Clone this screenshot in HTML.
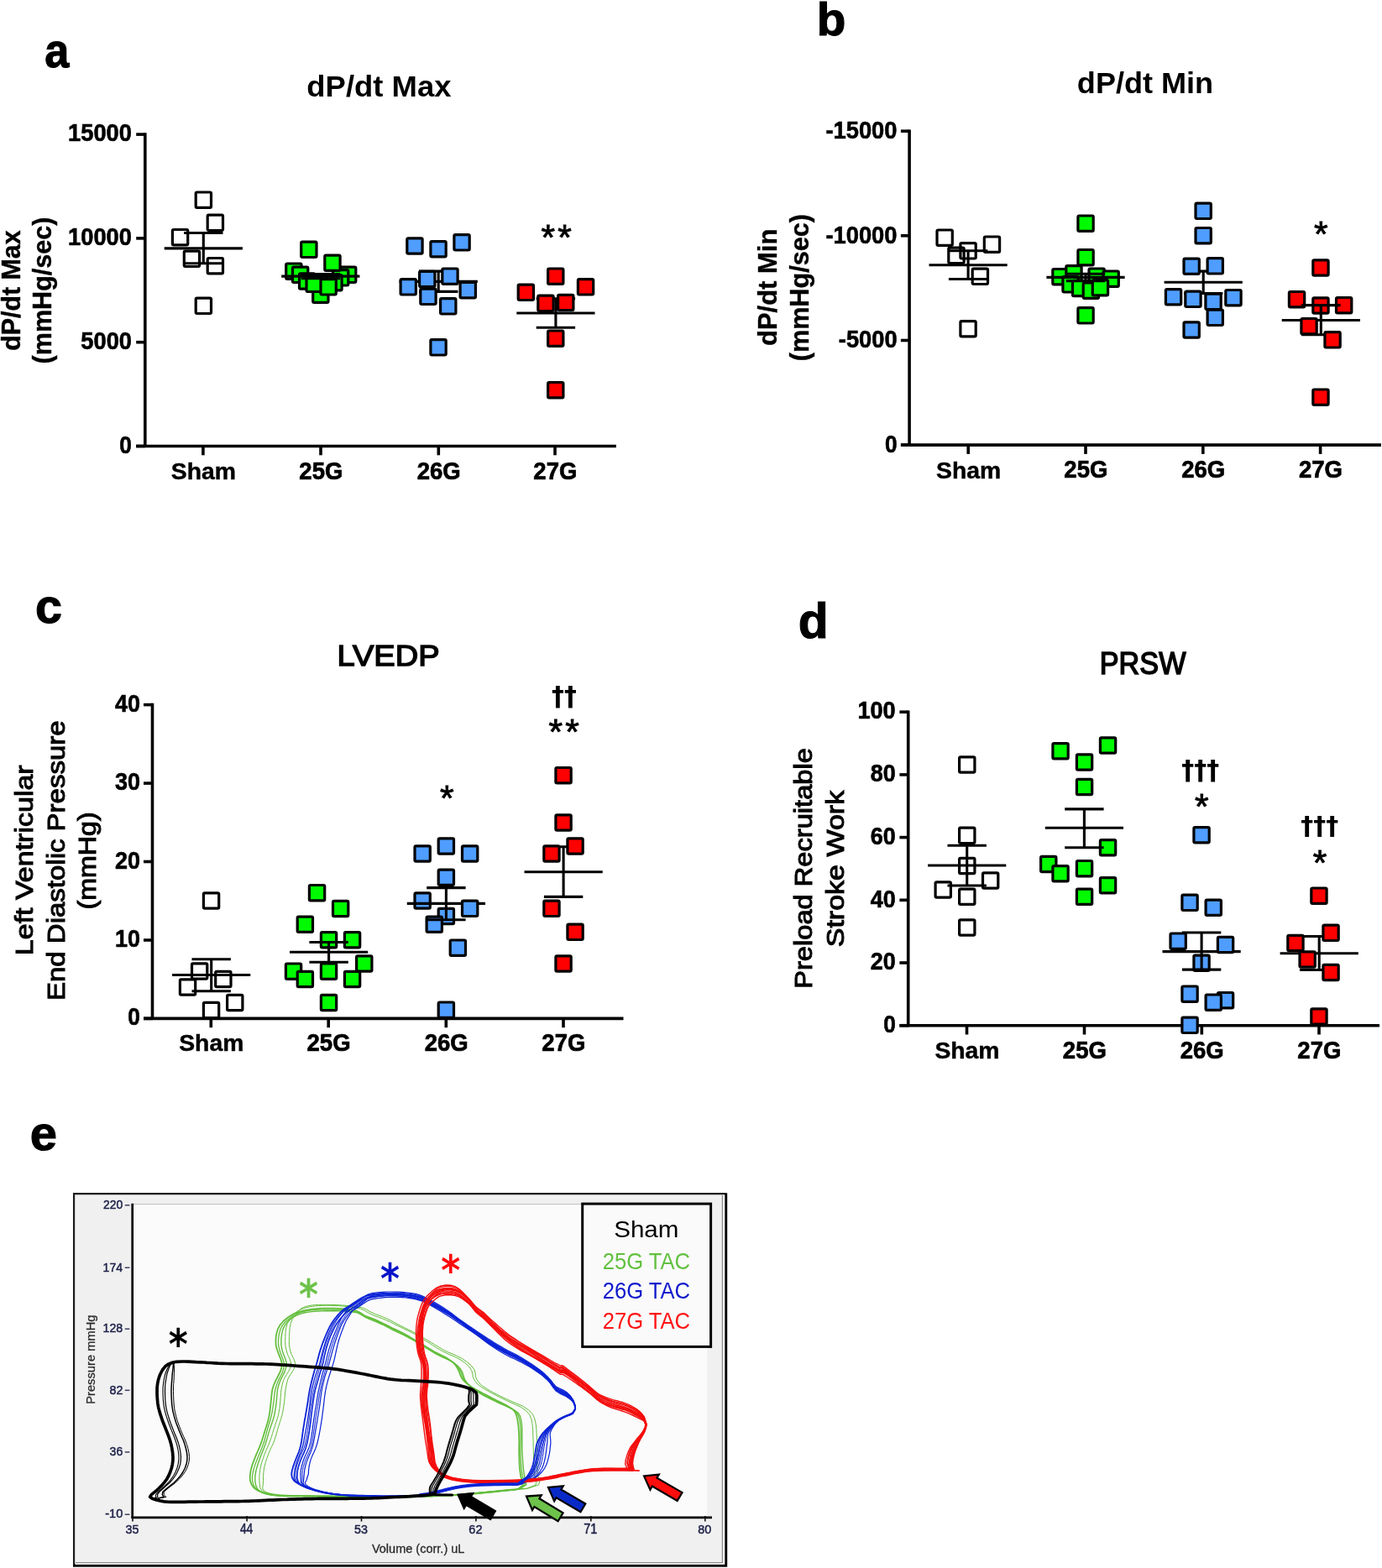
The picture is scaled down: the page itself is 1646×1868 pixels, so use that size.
<!DOCTYPE html>
<html lang="en"><head><meta charset="utf-8"><title>Figure</title>
<style>
html,body{margin:0;padding:0;background:#fff;}
body{width:1646px;height:1868px;overflow:hidden;}
svg{display:block;}
</style></head><body>
<svg width="1646" height="1868" viewBox="0 0 1646 1868" font-family="Liberation Sans, sans-serif">
<rect width="1646" height="1868" fill="#fff"/>
<g>
<rect x="233.2" y="229.0" width="18.3" height="18.3" rx="1.4" fill="none" stroke="#000" stroke-width="3.2"/>
<rect x="247.2" y="256.2" width="18.3" height="18.3" rx="1.4" fill="none" stroke="#000" stroke-width="3.2"/>
<rect x="205.4" y="273.5" width="18.3" height="18.3" rx="1.4" fill="none" stroke="#000" stroke-width="3.2"/>
<rect x="219.3" y="299.2" width="18.3" height="18.3" rx="1.4" fill="none" stroke="#000" stroke-width="3.2"/>
<rect x="247.2" y="307.5" width="18.3" height="18.3" rx="1.4" fill="none" stroke="#000" stroke-width="3.2"/>
<rect x="233.2" y="355.2" width="18.3" height="18.3" rx="1.4" fill="none" stroke="#000" stroke-width="3.2"/>
<line x1="195.7" y1="295.9" x2="288.9" y2="295.9" stroke="#000" stroke-width="3.1"/>
<line x1="242.3" y1="277.5" x2="242.3" y2="313.8" stroke="#000" stroke-width="3.1"/>
<line x1="219.1" y1="277.5" x2="265.5" y2="277.5" stroke="#000" stroke-width="3.1"/>
<line x1="219.1" y1="313.8" x2="265.5" y2="313.8" stroke="#000" stroke-width="3.1"/>
<rect x="372.7" y="342.1" width="18.3" height="18.3" rx="1.4" fill="#00fb00" stroke="#000" stroke-width="3.2"/>
<rect x="340.7" y="314.0" width="18.3" height="18.3" rx="1.4" fill="#00fb00" stroke="#000" stroke-width="3.2"/>
<rect x="405.5" y="318.2" width="18.3" height="18.3" rx="1.4" fill="#00fb00" stroke="#000" stroke-width="3.2"/>
<rect x="348.5" y="318.2" width="18.3" height="18.3" rx="1.4" fill="#00fb00" stroke="#000" stroke-width="3.2"/>
<rect x="396.5" y="321.7" width="18.3" height="18.3" rx="1.4" fill="#00fb00" stroke="#000" stroke-width="3.2"/>
<rect x="356.5" y="325.9" width="18.3" height="18.3" rx="1.4" fill="#00fb00" stroke="#000" stroke-width="3.2"/>
<rect x="388.8" y="327.6" width="18.3" height="18.3" rx="1.4" fill="#00fb00" stroke="#000" stroke-width="3.2"/>
<rect x="365.0" y="329.2" width="18.3" height="18.3" rx="1.4" fill="#00fb00" stroke="#000" stroke-width="3.2"/>
<rect x="382.0" y="332.7" width="18.3" height="18.3" rx="1.4" fill="#00fb00" stroke="#000" stroke-width="3.2"/>
<rect x="358.7" y="288.2" width="18.3" height="18.3" rx="1.4" fill="#00fb00" stroke="#000" stroke-width="3.2"/>
<rect x="386.8" y="304.1" width="18.3" height="18.3" rx="1.4" fill="#00fb00" stroke="#000" stroke-width="3.2"/>
<line x1="335.2" y1="329.1" x2="428.4" y2="329.1" stroke="#000" stroke-width="3.1"/>
<line x1="381.8" y1="326.5" x2="381.8" y2="331.7" stroke="#000" stroke-width="3.1"/>
<line x1="358.6" y1="326.5" x2="405.0" y2="326.5" stroke="#000" stroke-width="3.1"/>
<line x1="358.6" y1="331.7" x2="405.0" y2="331.7" stroke="#000" stroke-width="3.1"/>
<line x1="475.6" y1="335.4" x2="568.8" y2="335.4" stroke="#000" stroke-width="3.1"/>
<line x1="522.2" y1="323.1" x2="522.2" y2="347.4" stroke="#000" stroke-width="3.1"/>
<line x1="499.0" y1="323.1" x2="545.4" y2="323.1" stroke="#000" stroke-width="3.1"/>
<line x1="499.0" y1="347.4" x2="545.4" y2="347.4" stroke="#000" stroke-width="3.1"/>
<rect x="484.8" y="283.9" width="18.3" height="18.3" rx="1.4" fill="#4f9dff" stroke="#000" stroke-width="3.2"/>
<rect x="512.9" y="287.6" width="18.3" height="18.3" rx="1.4" fill="#4f9dff" stroke="#000" stroke-width="3.2"/>
<rect x="540.9" y="279.7" width="18.3" height="18.3" rx="1.4" fill="#4f9dff" stroke="#000" stroke-width="3.2"/>
<rect x="499.6" y="323.4" width="18.3" height="18.3" rx="1.4" fill="#4f9dff" stroke="#000" stroke-width="3.2"/>
<rect x="526.8" y="320.0" width="18.3" height="18.3" rx="1.4" fill="#4f9dff" stroke="#000" stroke-width="3.2"/>
<rect x="477.1" y="332.7" width="18.3" height="18.3" rx="1.4" fill="#4f9dff" stroke="#000" stroke-width="3.2"/>
<rect x="548.1" y="336.5" width="18.3" height="18.3" rx="1.4" fill="#4f9dff" stroke="#000" stroke-width="3.2"/>
<rect x="500.8" y="344.2" width="18.3" height="18.3" rx="1.4" fill="#4f9dff" stroke="#000" stroke-width="3.2"/>
<rect x="524.6" y="355.7" width="18.3" height="18.3" rx="1.4" fill="#4f9dff" stroke="#000" stroke-width="3.2"/>
<rect x="512.9" y="404.7" width="18.3" height="18.3" rx="1.4" fill="#4f9dff" stroke="#000" stroke-width="3.2"/>
<line x1="615.3" y1="373.0" x2="708.5" y2="373.0" stroke="#000" stroke-width="3.1"/>
<line x1="661.9" y1="355.7" x2="661.9" y2="390.3" stroke="#000" stroke-width="3.1"/>
<line x1="638.7" y1="355.7" x2="685.1" y2="355.7" stroke="#000" stroke-width="3.1"/>
<line x1="638.7" y1="390.3" x2="685.1" y2="390.3" stroke="#000" stroke-width="3.1"/>
<rect x="652.6" y="320.0" width="18.3" height="18.3" rx="1.4" fill="#ff0000" stroke="#000" stroke-width="3.2"/>
<rect x="617.2" y="339.2" width="18.3" height="18.3" rx="1.4" fill="#ff0000" stroke="#000" stroke-width="3.2"/>
<rect x="688.4" y="332.7" width="18.3" height="18.3" rx="1.4" fill="#ff0000" stroke="#000" stroke-width="3.2"/>
<rect x="640.8" y="352.2" width="18.3" height="18.3" rx="1.4" fill="#ff0000" stroke="#000" stroke-width="3.2"/>
<rect x="664.6" y="351.4" width="18.3" height="18.3" rx="1.4" fill="#ff0000" stroke="#000" stroke-width="3.2"/>
<rect x="652.6" y="394.0" width="18.3" height="18.3" rx="1.4" fill="#ff0000" stroke="#000" stroke-width="3.2"/>
<rect x="652.6" y="455.5" width="18.3" height="18.3" rx="1.4" fill="#ff0000" stroke="#000" stroke-width="3.2"/>
<line x1="172.8" y1="158.3" x2="172.8" y2="533.0" stroke="#000" stroke-width="3.6"/>
<line x1="162.2" y1="531.5" x2="733.8" y2="531.5" stroke="#000" stroke-width="3.6"/>
<line x1="162.2" y1="160.1" x2="172.8" y2="160.1" stroke="#000" stroke-width="3.6"/>
<line x1="162.2" y1="283.9" x2="172.8" y2="283.9" stroke="#000" stroke-width="3.6"/>
<line x1="162.2" y1="407.7" x2="172.8" y2="407.7" stroke="#000" stroke-width="3.6"/>
<line x1="162.2" y1="531.5" x2="172.8" y2="531.5" stroke="#000" stroke-width="3.6"/>
<line x1="241.9" y1="531.5" x2="241.9" y2="542.3" stroke="#000" stroke-width="3.6"/>
<line x1="382.0" y1="531.5" x2="382.0" y2="542.3" stroke="#000" stroke-width="3.6"/>
<line x1="522.3" y1="531.5" x2="522.3" y2="542.3" stroke="#000" stroke-width="3.6"/>
<line x1="661.0" y1="531.5" x2="661.0" y2="542.3" stroke="#000" stroke-width="3.6"/>
</g>
<g>
<rect x="1116.0" y="274.0" width="18.3" height="18.3" rx="1.4" fill="none" stroke="#000" stroke-width="3.2"/>
<rect x="1129.8" y="295.2" width="18.3" height="18.3" rx="1.4" fill="none" stroke="#000" stroke-width="3.2"/>
<rect x="1143.9" y="289.7" width="18.3" height="18.3" rx="1.4" fill="none" stroke="#000" stroke-width="3.2"/>
<rect x="1172.3" y="282.0" width="18.3" height="18.3" rx="1.4" fill="none" stroke="#000" stroke-width="3.2"/>
<rect x="1158.2" y="320.2" width="18.3" height="18.3" rx="1.4" fill="none" stroke="#000" stroke-width="3.2"/>
<rect x="1143.9" y="382.6" width="18.3" height="18.3" rx="1.4" fill="none" stroke="#000" stroke-width="3.2"/>
<line x1="1106.5" y1="315.8" x2="1199.7" y2="315.8" stroke="#000" stroke-width="3.1"/>
<line x1="1153.1" y1="298.8" x2="1153.1" y2="332.5" stroke="#000" stroke-width="3.1"/>
<line x1="1129.9" y1="298.8" x2="1176.3" y2="298.8" stroke="#000" stroke-width="3.1"/>
<line x1="1129.9" y1="332.5" x2="1176.3" y2="332.5" stroke="#000" stroke-width="3.1"/>
<rect x="1283.9" y="257.0" width="18.3" height="18.3" rx="1.4" fill="#00fb00" stroke="#000" stroke-width="3.2"/>
<rect x="1283.9" y="297.5" width="18.3" height="18.3" rx="1.4" fill="#00fb00" stroke="#000" stroke-width="3.2"/>
<rect x="1253.8" y="320.5" width="18.3" height="18.3" rx="1.4" fill="#00fb00" stroke="#000" stroke-width="3.2"/>
<rect x="1269.8" y="316.6" width="18.3" height="18.3" rx="1.4" fill="#00fb00" stroke="#000" stroke-width="3.2"/>
<rect x="1297.0" y="320.0" width="18.3" height="18.3" rx="1.4" fill="#00fb00" stroke="#000" stroke-width="3.2"/>
<rect x="1314.0" y="323.0" width="18.3" height="18.3" rx="1.4" fill="#00fb00" stroke="#000" stroke-width="3.2"/>
<rect x="1265.9" y="329.7" width="18.3" height="18.3" rx="1.4" fill="#00fb00" stroke="#000" stroke-width="3.2"/>
<rect x="1277.5" y="334.4" width="18.3" height="18.3" rx="1.4" fill="#00fb00" stroke="#000" stroke-width="3.2"/>
<rect x="1290.2" y="337.0" width="18.3" height="18.3" rx="1.4" fill="#00fb00" stroke="#000" stroke-width="3.2"/>
<rect x="1301.3" y="333.6" width="18.3" height="18.3" rx="1.4" fill="#00fb00" stroke="#000" stroke-width="3.2"/>
<rect x="1283.9" y="366.7" width="18.3" height="18.3" rx="1.4" fill="#00fb00" stroke="#000" stroke-width="3.2"/>
<line x1="1246.4" y1="330.4" x2="1339.6" y2="330.4" stroke="#000" stroke-width="3.1"/>
<line x1="1293.0" y1="326.2" x2="1293.0" y2="334.6" stroke="#000" stroke-width="3.1"/>
<line x1="1269.8" y1="326.2" x2="1316.2" y2="326.2" stroke="#000" stroke-width="3.1"/>
<line x1="1269.8" y1="334.6" x2="1316.2" y2="334.6" stroke="#000" stroke-width="3.1"/>
<rect x="1424.0" y="242.2" width="18.3" height="18.3" rx="1.4" fill="#4f9dff" stroke="#000" stroke-width="3.2"/>
<rect x="1424.0" y="271.5" width="18.3" height="18.3" rx="1.4" fill="#4f9dff" stroke="#000" stroke-width="3.2"/>
<line x1="1386.6" y1="336.2" x2="1479.8" y2="336.2" stroke="#000" stroke-width="3.1"/>
<line x1="1433.2" y1="323.1" x2="1433.2" y2="349.5" stroke="#000" stroke-width="3.1"/>
<line x1="1410.0" y1="323.1" x2="1456.4" y2="323.1" stroke="#000" stroke-width="3.1"/>
<line x1="1410.0" y1="349.5" x2="1456.4" y2="349.5" stroke="#000" stroke-width="3.1"/>
<rect x="1410.0" y="308.1" width="18.3" height="18.3" rx="1.4" fill="#4f9dff" stroke="#000" stroke-width="3.2"/>
<rect x="1438.1" y="307.7" width="18.3" height="18.3" rx="1.4" fill="#4f9dff" stroke="#000" stroke-width="3.2"/>
<rect x="1388.4" y="344.6" width="18.3" height="18.3" rx="1.4" fill="#4f9dff" stroke="#000" stroke-width="3.2"/>
<rect x="1411.8" y="347.2" width="18.3" height="18.3" rx="1.4" fill="#4f9dff" stroke="#000" stroke-width="3.2"/>
<rect x="1435.9" y="350.2" width="18.3" height="18.3" rx="1.4" fill="#4f9dff" stroke="#000" stroke-width="3.2"/>
<rect x="1459.8" y="345.5" width="18.3" height="18.3" rx="1.4" fill="#4f9dff" stroke="#000" stroke-width="3.2"/>
<rect x="1438.1" y="369.2" width="18.3" height="18.3" rx="1.4" fill="#4f9dff" stroke="#000" stroke-width="3.2"/>
<rect x="1410.0" y="383.8" width="18.3" height="18.3" rx="1.4" fill="#4f9dff" stroke="#000" stroke-width="3.2"/>
<rect x="1563.8" y="309.8" width="18.3" height="18.3" rx="1.4" fill="#ff0000" stroke="#000" stroke-width="3.2"/>
<rect x="1535.4" y="347.5" width="18.3" height="18.3" rx="1.4" fill="#ff0000" stroke="#000" stroke-width="3.2"/>
<rect x="1563.8" y="354.8" width="18.3" height="18.3" rx="1.4" fill="#ff0000" stroke="#000" stroke-width="3.2"/>
<rect x="1591.5" y="354.5" width="18.3" height="18.3" rx="1.4" fill="#ff0000" stroke="#000" stroke-width="3.2"/>
<rect x="1563.8" y="464.0" width="18.3" height="18.3" rx="1.4" fill="#ff0000" stroke="#000" stroke-width="3.2"/>
<line x1="1526.7" y1="381.5" x2="1619.9" y2="381.5" stroke="#000" stroke-width="3.1"/>
<line x1="1573.3" y1="363.6" x2="1573.3" y2="398.8" stroke="#000" stroke-width="3.1"/>
<line x1="1550.1" y1="363.6" x2="1596.5" y2="363.6" stroke="#000" stroke-width="3.1"/>
<line x1="1550.1" y1="398.8" x2="1596.5" y2="398.8" stroke="#000" stroke-width="3.1"/>
<rect x="1549.9" y="379.5" width="18.3" height="18.3" rx="1.4" fill="#ff0000" stroke="#000" stroke-width="3.2"/>
<rect x="1577.9" y="395.7" width="18.3" height="18.3" rx="1.4" fill="#ff0000" stroke="#000" stroke-width="3.2"/>
<line x1="1083.1" y1="154.4" x2="1083.1" y2="531.6" stroke="#000" stroke-width="3.6"/>
<line x1="1072.9" y1="530.1" x2="1644.9" y2="530.1" stroke="#000" stroke-width="3.6"/>
<line x1="1072.9" y1="156.2" x2="1083.1" y2="156.2" stroke="#000" stroke-width="3.6"/>
<line x1="1072.9" y1="280.8" x2="1083.1" y2="280.8" stroke="#000" stroke-width="3.6"/>
<line x1="1072.9" y1="405.5" x2="1083.1" y2="405.5" stroke="#000" stroke-width="3.6"/>
<line x1="1072.9" y1="530.1" x2="1083.1" y2="530.1" stroke="#000" stroke-width="3.6"/>
<line x1="1153.2" y1="530.1" x2="1153.2" y2="540.9" stroke="#000" stroke-width="3.6"/>
<line x1="1293.0" y1="530.1" x2="1293.0" y2="540.9" stroke="#000" stroke-width="3.6"/>
<line x1="1432.8" y1="530.1" x2="1432.8" y2="540.9" stroke="#000" stroke-width="3.6"/>
<line x1="1572.6" y1="530.1" x2="1572.6" y2="540.9" stroke="#000" stroke-width="3.6"/>
</g>
<g>
<rect x="242.4" y="1063.8" width="18.3" height="18.3" rx="1.4" fill="none" stroke="#000" stroke-width="3.2"/>
<rect x="228.5" y="1147.8" width="18.3" height="18.3" rx="1.4" fill="none" stroke="#000" stroke-width="3.2"/>
<rect x="256.7" y="1157.4" width="18.3" height="18.3" rx="1.4" fill="none" stroke="#000" stroke-width="3.2"/>
<rect x="214.4" y="1166.9" width="18.3" height="18.3" rx="1.4" fill="none" stroke="#000" stroke-width="3.2"/>
<rect x="270.6" y="1185.4" width="18.3" height="18.3" rx="1.4" fill="none" stroke="#000" stroke-width="3.2"/>
<rect x="242.4" y="1194.4" width="18.3" height="18.3" rx="1.4" fill="none" stroke="#000" stroke-width="3.2"/>
<line x1="205.1" y1="1161.5" x2="298.3" y2="1161.5" stroke="#000" stroke-width="3.1"/>
<line x1="251.7" y1="1142.8" x2="251.7" y2="1180.7" stroke="#000" stroke-width="3.1"/>
<line x1="228.5" y1="1142.8" x2="274.9" y2="1142.8" stroke="#000" stroke-width="3.1"/>
<line x1="228.5" y1="1180.7" x2="274.9" y2="1180.7" stroke="#000" stroke-width="3.1"/>
<rect x="368.4" y="1054.5" width="18.3" height="18.3" rx="1.4" fill="#00fb00" stroke="#000" stroke-width="3.2"/>
<rect x="396.5" y="1073.3" width="18.3" height="18.3" rx="1.4" fill="#00fb00" stroke="#000" stroke-width="3.2"/>
<rect x="354.2" y="1092.1" width="18.3" height="18.3" rx="1.4" fill="#00fb00" stroke="#000" stroke-width="3.2"/>
<rect x="382.4" y="1110.6" width="18.3" height="18.3" rx="1.4" fill="#00fb00" stroke="#000" stroke-width="3.2"/>
<rect x="410.4" y="1110.6" width="18.3" height="18.3" rx="1.4" fill="#00fb00" stroke="#000" stroke-width="3.2"/>
<rect x="424.6" y="1138.8" width="18.3" height="18.3" rx="1.4" fill="#00fb00" stroke="#000" stroke-width="3.2"/>
<rect x="340.4" y="1148.0" width="18.3" height="18.3" rx="1.4" fill="#00fb00" stroke="#000" stroke-width="3.2"/>
<rect x="382.4" y="1148.0" width="18.3" height="18.3" rx="1.4" fill="#00fb00" stroke="#000" stroke-width="3.2"/>
<rect x="354.2" y="1157.4" width="18.3" height="18.3" rx="1.4" fill="#00fb00" stroke="#000" stroke-width="3.2"/>
<rect x="410.4" y="1157.4" width="18.3" height="18.3" rx="1.4" fill="#00fb00" stroke="#000" stroke-width="3.2"/>
<rect x="382.4" y="1185.4" width="18.3" height="18.3" rx="1.4" fill="#00fb00" stroke="#000" stroke-width="3.2"/>
<line x1="345.0" y1="1134.3" x2="438.2" y2="1134.3" stroke="#000" stroke-width="3.1"/>
<line x1="391.6" y1="1122.5" x2="391.6" y2="1146.3" stroke="#000" stroke-width="3.1"/>
<line x1="368.4" y1="1122.5" x2="414.8" y2="1122.5" stroke="#000" stroke-width="3.1"/>
<line x1="368.4" y1="1146.3" x2="414.8" y2="1146.3" stroke="#000" stroke-width="3.1"/>
<rect x="522.2" y="998.8" width="18.3" height="18.3" rx="1.4" fill="#4f9dff" stroke="#000" stroke-width="3.2"/>
<rect x="494.0" y="1007.9" width="18.3" height="18.3" rx="1.4" fill="#4f9dff" stroke="#000" stroke-width="3.2"/>
<rect x="550.5" y="1007.9" width="18.3" height="18.3" rx="1.4" fill="#4f9dff" stroke="#000" stroke-width="3.2"/>
<rect x="494.0" y="1063.8" width="18.3" height="18.3" rx="1.4" fill="#4f9dff" stroke="#000" stroke-width="3.2"/>
<rect x="522.2" y="1082.3" width="18.3" height="18.3" rx="1.4" fill="#4f9dff" stroke="#000" stroke-width="3.2"/>
<rect x="508.1" y="1092.1" width="18.3" height="18.3" rx="1.4" fill="#4f9dff" stroke="#000" stroke-width="3.2"/>
<rect x="536.2" y="1120.0" width="18.3" height="18.3" rx="1.4" fill="#4f9dff" stroke="#000" stroke-width="3.2"/>
<line x1="484.8" y1="1076.4" x2="578.0" y2="1076.4" stroke="#000" stroke-width="3.1"/>
<line x1="531.4" y1="1057.6" x2="531.4" y2="1095.8" stroke="#000" stroke-width="3.1"/>
<line x1="508.2" y1="1057.6" x2="554.6" y2="1057.6" stroke="#000" stroke-width="3.1"/>
<line x1="508.2" y1="1095.8" x2="554.6" y2="1095.8" stroke="#000" stroke-width="3.1"/>
<rect x="522.2" y="1036.1" width="18.3" height="18.3" rx="1.4" fill="#4f9dff" stroke="#000" stroke-width="3.2"/>
<rect x="550.5" y="1073.2" width="18.3" height="18.3" rx="1.4" fill="#4f9dff" stroke="#000" stroke-width="3.2"/>
<rect x="522.2" y="1194.0" width="18.3" height="18.3" rx="1.4" fill="#4f9dff" stroke="#000" stroke-width="3.2"/>
<rect x="661.9" y="914.5" width="18.3" height="18.3" rx="1.4" fill="#ff0000" stroke="#000" stroke-width="3.2"/>
<rect x="661.9" y="970.9" width="18.3" height="18.3" rx="1.4" fill="#ff0000" stroke="#000" stroke-width="3.2"/>
<line x1="624.5" y1="1038.8" x2="717.7" y2="1038.8" stroke="#000" stroke-width="3.1"/>
<line x1="671.1" y1="1008.8" x2="671.1" y2="1068.4" stroke="#000" stroke-width="3.1"/>
<line x1="647.9" y1="1008.8" x2="694.3" y2="1008.8" stroke="#000" stroke-width="3.1"/>
<line x1="647.9" y1="1068.4" x2="694.3" y2="1068.4" stroke="#000" stroke-width="3.1"/>
<rect x="675.9" y="998.8" width="18.3" height="18.3" rx="1.4" fill="#ff0000" stroke="#000" stroke-width="3.2"/>
<rect x="647.8" y="1007.9" width="18.3" height="18.3" rx="1.4" fill="#ff0000" stroke="#000" stroke-width="3.2"/>
<rect x="647.8" y="1073.2" width="18.3" height="18.3" rx="1.4" fill="#ff0000" stroke="#000" stroke-width="3.2"/>
<rect x="675.9" y="1101.2" width="18.3" height="18.3" rx="1.4" fill="#ff0000" stroke="#000" stroke-width="3.2"/>
<rect x="661.9" y="1138.8" width="18.3" height="18.3" rx="1.4" fill="#ff0000" stroke="#000" stroke-width="3.2"/>
<line x1="181.5" y1="837.8" x2="181.5" y2="1214.9" stroke="#000" stroke-width="3.6"/>
<line x1="171.0" y1="1213.4" x2="742.5" y2="1213.4" stroke="#000" stroke-width="3.6"/>
<line x1="171.0" y1="839.6" x2="181.5" y2="839.6" stroke="#000" stroke-width="3.6"/>
<line x1="171.0" y1="933.1" x2="181.5" y2="933.1" stroke="#000" stroke-width="3.6"/>
<line x1="171.0" y1="1026.5" x2="181.5" y2="1026.5" stroke="#000" stroke-width="3.6"/>
<line x1="171.0" y1="1120.0" x2="181.5" y2="1120.0" stroke="#000" stroke-width="3.6"/>
<line x1="171.0" y1="1213.4" x2="181.5" y2="1213.4" stroke="#000" stroke-width="3.6"/>
<line x1="251.3" y1="1213.4" x2="251.3" y2="1224.2" stroke="#000" stroke-width="3.6"/>
<line x1="391.2" y1="1213.4" x2="391.2" y2="1224.2" stroke="#000" stroke-width="3.6"/>
<line x1="531.3" y1="1213.4" x2="531.3" y2="1224.2" stroke="#000" stroke-width="3.6"/>
<line x1="671.0" y1="1213.4" x2="671.0" y2="1224.2" stroke="#000" stroke-width="3.6"/>
</g>
<g>
<rect x="1142.6" y="901.9" width="18.3" height="18.3" rx="1.4" fill="none" stroke="#000" stroke-width="3.2"/>
<rect x="1142.6" y="986.2" width="18.3" height="18.3" rx="1.4" fill="none" stroke="#000" stroke-width="3.2"/>
<rect x="1142.6" y="1022.3" width="18.3" height="18.3" rx="1.4" fill="none" stroke="#000" stroke-width="3.2"/>
<rect x="1170.5" y="1039.8" width="18.3" height="18.3" rx="1.4" fill="none" stroke="#000" stroke-width="3.2"/>
<rect x="1114.1" y="1050.9" width="18.3" height="18.3" rx="1.4" fill="none" stroke="#000" stroke-width="3.2"/>
<rect x="1142.6" y="1059.1" width="18.3" height="18.3" rx="1.4" fill="none" stroke="#000" stroke-width="3.2"/>
<rect x="1142.6" y="1095.8" width="18.3" height="18.3" rx="1.4" fill="none" stroke="#000" stroke-width="3.2"/>
<line x1="1105.1" y1="1031.0" x2="1198.3" y2="1031.0" stroke="#000" stroke-width="3.1"/>
<line x1="1151.7" y1="1007.2" x2="1151.7" y2="1055.0" stroke="#000" stroke-width="3.1"/>
<line x1="1128.5" y1="1007.2" x2="1174.9" y2="1007.2" stroke="#000" stroke-width="3.1"/>
<line x1="1128.5" y1="1055.0" x2="1174.9" y2="1055.0" stroke="#000" stroke-width="3.1"/>
<rect x="1253.9" y="885.6" width="18.3" height="18.3" rx="1.4" fill="#00fb00" stroke="#000" stroke-width="3.2"/>
<rect x="1310.4" y="878.9" width="18.3" height="18.3" rx="1.4" fill="#00fb00" stroke="#000" stroke-width="3.2"/>
<rect x="1282.4" y="898.9" width="18.3" height="18.3" rx="1.4" fill="#00fb00" stroke="#000" stroke-width="3.2"/>
<rect x="1282.4" y="928.4" width="18.3" height="18.3" rx="1.4" fill="#00fb00" stroke="#000" stroke-width="3.2"/>
<rect x="1310.4" y="1000.6" width="18.3" height="18.3" rx="1.4" fill="#00fb00" stroke="#000" stroke-width="3.2"/>
<rect x="1239.6" y="1020.4" width="18.3" height="18.3" rx="1.4" fill="#00fb00" stroke="#000" stroke-width="3.2"/>
<rect x="1253.9" y="1031.6" width="18.3" height="18.3" rx="1.4" fill="#00fb00" stroke="#000" stroke-width="3.2"/>
<rect x="1282.4" y="1025.5" width="18.3" height="18.3" rx="1.4" fill="#00fb00" stroke="#000" stroke-width="3.2"/>
<rect x="1310.4" y="1045.6" width="18.3" height="18.3" rx="1.4" fill="#00fb00" stroke="#000" stroke-width="3.2"/>
<rect x="1282.4" y="1059.1" width="18.3" height="18.3" rx="1.4" fill="#00fb00" stroke="#000" stroke-width="3.2"/>
<line x1="1244.8" y1="986.3" x2="1338.0" y2="986.3" stroke="#000" stroke-width="3.1"/>
<line x1="1291.4" y1="963.9" x2="1291.4" y2="1009.7" stroke="#000" stroke-width="3.1"/>
<line x1="1268.2" y1="963.9" x2="1314.6" y2="963.9" stroke="#000" stroke-width="3.1"/>
<line x1="1268.2" y1="1009.7" x2="1314.6" y2="1009.7" stroke="#000" stroke-width="3.1"/>
<rect x="1421.9" y="985.6" width="18.3" height="18.3" rx="1.4" fill="#4f9dff" stroke="#000" stroke-width="3.2"/>
<rect x="1407.9" y="1066.2" width="18.3" height="18.3" rx="1.4" fill="#4f9dff" stroke="#000" stroke-width="3.2"/>
<rect x="1436.1" y="1072.1" width="18.3" height="18.3" rx="1.4" fill="#4f9dff" stroke="#000" stroke-width="3.2"/>
<rect x="1421.9" y="1138.2" width="18.3" height="18.3" rx="1.4" fill="#4f9dff" stroke="#000" stroke-width="3.2"/>
<rect x="1407.9" y="1175.0" width="18.3" height="18.3" rx="1.4" fill="#4f9dff" stroke="#000" stroke-width="3.2"/>
<rect x="1450.4" y="1182.5" width="18.3" height="18.3" rx="1.4" fill="#4f9dff" stroke="#000" stroke-width="3.2"/>
<rect x="1436.1" y="1185.0" width="18.3" height="18.3" rx="1.4" fill="#4f9dff" stroke="#000" stroke-width="3.2"/>
<line x1="1384.5" y1="1133.6" x2="1477.7" y2="1133.6" stroke="#000" stroke-width="3.1"/>
<line x1="1431.1" y1="1111.0" x2="1431.1" y2="1155.1" stroke="#000" stroke-width="3.1"/>
<line x1="1407.9" y1="1111.0" x2="1454.3" y2="1111.0" stroke="#000" stroke-width="3.1"/>
<line x1="1407.9" y1="1155.1" x2="1454.3" y2="1155.1" stroke="#000" stroke-width="3.1"/>
<rect x="1394.0" y="1112.0" width="18.3" height="18.3" rx="1.4" fill="#4f9dff" stroke="#000" stroke-width="3.2"/>
<rect x="1450.4" y="1116.4" width="18.3" height="18.3" rx="1.4" fill="#4f9dff" stroke="#000" stroke-width="3.2"/>
<rect x="1561.8" y="1058.0" width="18.3" height="18.3" rx="1.4" fill="#ff0000" stroke="#000" stroke-width="3.2"/>
<rect x="1561.8" y="1201.9" width="18.3" height="18.3" rx="1.4" fill="#ff0000" stroke="#000" stroke-width="3.2"/>
<line x1="1524.6" y1="1135.8" x2="1617.8" y2="1135.8" stroke="#000" stroke-width="3.1"/>
<line x1="1571.2" y1="1115.5" x2="1571.2" y2="1155.5" stroke="#000" stroke-width="3.1"/>
<line x1="1548.0" y1="1115.5" x2="1594.4" y2="1115.5" stroke="#000" stroke-width="3.1"/>
<line x1="1548.0" y1="1155.5" x2="1594.4" y2="1155.5" stroke="#000" stroke-width="3.1"/>
<rect x="1575.9" y="1102.2" width="18.3" height="18.3" rx="1.4" fill="#ff0000" stroke="#000" stroke-width="3.2"/>
<rect x="1533.8" y="1114.4" width="18.3" height="18.3" rx="1.4" fill="#ff0000" stroke="#000" stroke-width="3.2"/>
<rect x="1548.0" y="1133.8" width="18.3" height="18.3" rx="1.4" fill="#ff0000" stroke="#000" stroke-width="3.2"/>
<rect x="1575.9" y="1149.4" width="18.3" height="18.3" rx="1.4" fill="#ff0000" stroke="#000" stroke-width="3.2"/>
<line x1="1081.7" y1="846.4" x2="1081.7" y2="1223.2" stroke="#000" stroke-width="3.6"/>
<line x1="1071.4" y1="1221.7" x2="1643.0" y2="1221.7" stroke="#000" stroke-width="3.6"/>
<line x1="1071.4" y1="848.2" x2="1081.7" y2="848.2" stroke="#000" stroke-width="3.6"/>
<line x1="1071.4" y1="922.9" x2="1081.7" y2="922.9" stroke="#000" stroke-width="3.6"/>
<line x1="1071.4" y1="997.6" x2="1081.7" y2="997.6" stroke="#000" stroke-width="3.6"/>
<line x1="1071.4" y1="1072.3" x2="1081.7" y2="1072.3" stroke="#000" stroke-width="3.6"/>
<line x1="1071.4" y1="1147.0" x2="1081.7" y2="1147.0" stroke="#000" stroke-width="3.6"/>
<line x1="1071.4" y1="1221.7" x2="1081.7" y2="1221.7" stroke="#000" stroke-width="3.6"/>
<line x1="1151.5" y1="1221.7" x2="1151.5" y2="1232.5" stroke="#000" stroke-width="3.6"/>
<line x1="1291.5" y1="1221.7" x2="1291.5" y2="1232.5" stroke="#000" stroke-width="3.6"/>
<line x1="1431.3" y1="1221.7" x2="1431.3" y2="1232.5" stroke="#000" stroke-width="3.6"/>
<line x1="1571.0" y1="1221.7" x2="1571.0" y2="1232.5" stroke="#000" stroke-width="3.6"/>
<rect x="1407.9" y="1212.2" width="18.3" height="18.3" rx="1.4" fill="#4f9dff" stroke="#000" stroke-width="3.2"/>
</g>
<g>
<rect x="87.6" y="1422" width="777.4" height="443.8" fill="#f0f0f0"/>
<rect x="158" y="1434.4" width="684.2" height="373" fill="#fbfbfb"/>
<path d="M88.05,1865.5V1422.2H864" fill="none" stroke="#1c1c1c" stroke-width="2.2"/>
<path d="M87,1865.15H864.65V1421.2" fill="none" stroke="#050505" stroke-width="3.1"/>
<path d="M90,1862.9H862.4V1424" fill="none" stroke="#fff" stroke-width="1.6"/>
<path d="M90,1861.7H860.4V1424" fill="none" stroke="#8c8c8c" stroke-width="1.2"/>
<path d="M92,1861V1426.4H860" fill="none" stroke="#fff" stroke-width="1" stroke-dasharray="1.5 1.5" stroke-opacity="0.7"/>
<line x1="158" y1="1434.6" x2="842" y2="1434.6" stroke="#bdbdbd" stroke-width="1"/>
<line x1="157.7" y1="1433.8" x2="157.7" y2="1808.6" stroke="#000" stroke-width="2.7"/>
<line x1="156.4" y1="1807.8" x2="848" y2="1807.8" stroke="#000" stroke-width="2.7"/>
<line x1="148.8" y1="1435.8" x2="154.4" y2="1435.8" stroke="#3a3d5c" stroke-width="1.5"/>
<line x1="148.8" y1="1510.2" x2="154.4" y2="1510.2" stroke="#3a3d5c" stroke-width="1.5"/>
<line x1="148.8" y1="1583.2" x2="154.4" y2="1583.2" stroke="#3a3d5c" stroke-width="1.5"/>
<line x1="148.8" y1="1656.3" x2="154.4" y2="1656.3" stroke="#3a3d5c" stroke-width="1.5"/>
<line x1="148.8" y1="1729.9" x2="154.4" y2="1729.9" stroke="#3a3d5c" stroke-width="1.5"/>
<line x1="148.8" y1="1804.2" x2="154.4" y2="1804.2" stroke="#3a3d5c" stroke-width="1.5"/>
<line x1="158.0" y1="1806" x2="158.0" y2="1812.6" stroke="#111" stroke-width="1.6"/>
<line x1="294.1" y1="1806" x2="294.1" y2="1812.6" stroke="#111" stroke-width="1.6"/>
<line x1="430.5" y1="1806" x2="430.5" y2="1812.6" stroke="#111" stroke-width="1.6"/>
<line x1="566.9" y1="1806" x2="566.9" y2="1812.6" stroke="#111" stroke-width="1.6"/>
<line x1="703.8" y1="1806" x2="703.8" y2="1812.6" stroke="#111" stroke-width="1.6"/>
<line x1="839.8" y1="1806" x2="839.8" y2="1812.6" stroke="#111" stroke-width="1.6"/>
<path d="M353.8,1563.8L358.1,1562.3L362.6,1561.2L367.4,1560.3L371.2,1559.7L375.2,1559.3L379.4,1558.9L384.0,1558.7L388.3,1558.6L393.0,1558.6L397.9,1558.7L402.7,1558.8L407.1,1559.1L412.1,1559.6L416.9,1560.1L421.2,1560.9L424.9,1561.8L429.3,1564.1L433.5,1567.0L437.2,1568.5L441.5,1570.2L446.0,1571.9L450.4,1573.8L454.5,1575.7L458.6,1577.8L462.7,1579.9L466.8,1582.0L470.9,1583.9L475.0,1585.9L479.1,1587.9L483.3,1590.1L487.5,1592.4L491.7,1594.9L496.0,1597.5L500.3,1600.0L504.5,1602.6L508.8,1605.2L513.0,1607.8L517.2,1610.3L521.6,1612.6L526.0,1614.8L530.2,1616.9L533.7,1618.9L538.5,1622.2L541.9,1625.6L544.6,1629.6L546.8,1633.9L548.2,1638.0L550.2,1642.1L553.6,1646.1L558.6,1650.3L562.3,1652.7L566.7,1655.2L571.2,1657.7L575.7,1660.2L579.9,1662.4L584.2,1664.6L588.4,1666.7L592.3,1668.7L597.1,1671.1L601.5,1673.3L605.4,1675.6L610.1,1678.5L613.6,1682.3L615.2,1686.2L616.2,1690.8L617.0,1695.7L617.5,1699.7L617.8,1703.8L618.1,1708.1L618.2,1712.2L618.3,1716.3L618.3,1720.5L618.2,1724.6L618.2,1728.7L618.3,1732.9L618.4,1737.2L618.5,1741.4L618.7,1745.4L619.1,1750.3L619.7,1754.8L620.3,1759.0L622.1,1764.6L622.9,1769.1L617.1,1773.9L613.8,1774.6L609.6,1775.1L605.1,1775.5L600.7,1775.9L596.6,1776.3L592.4,1776.7L588.2,1777.0L583.9,1777.4L579.7,1777.7L575.4,1778.1L571.1,1778.5L566.9,1778.8L562.7,1779.2L558.5,1779.5L554.3,1779.8L550.2,1780.2L546.5,1780.6L543.1,1780.9L539.1,1781.3L533.8,1781.6L530.5,1781.8L526.7,1782.0L522.6,1782.2L518.2,1782.4L513.6,1782.5L509.0,1782.7L504.5,1782.8L500.1,1782.8L495.9,1782.9L491.8,1783.0L487.8,1783.1L483.8,1783.2L479.8,1783.3L475.7,1783.4L471.4,1783.4L466.9,1783.5L463.1,1783.5L459.1,1783.5L454.9,1783.4L450.5,1783.4L446.1,1783.3L441.6,1783.2L437.2,1783.2L432.9,1783.1L428.8,1783.0L424.9,1783.0L420.2,1782.9L415.8,1782.9L411.6,1782.8L407.5,1782.8L403.5,1782.7L399.7,1782.7L396.0,1782.6L392.5,1782.5L387.9,1782.5L383.6,1782.4L379.5,1782.3L375.5,1782.3L371.4,1782.2L367.2,1782.2L362.9,1782.3L358.5,1782.3L354.1,1782.3L349.8,1782.4L345.7,1782.3L341.9,1782.3L336.8,1782.1L332.2,1781.8L327.9,1781.4L323.9,1780.9L318.9,1780.0L314.5,1778.8L310.7,1777.4L305.9,1775.1L302.2,1772.2L299.5,1768.4L297.9,1763.8L297.7,1758.3L298.6,1752.1L299.8,1747.4L301.5,1742.3L303.5,1737.1L305.1,1733.1L306.9,1729.0L308.7,1724.9L310.4,1720.7L311.9,1716.6L313.2,1712.4L314.4,1708.3L315.7,1704.1L317.0,1699.9L318.3,1695.7L319.5,1691.4L320.5,1687.2L321.2,1682.9L321.7,1678.6L322.2,1674.3L322.7,1670.2L323.2,1664.9L323.7,1659.9L324.4,1655.2L325.7,1651.0L327.3,1647.2L328.9,1643.6L331.6,1638.5L334.0,1633.7L335.4,1628.8L335.7,1623.8L334.3,1619.0L332.2,1613.9L330.9,1610.2L329.5,1606.3L328.6,1602.1L328.4,1597.6L328.7,1592.9L329.4,1588.6L331.0,1583.2L333.6,1578.4L337.4,1574.0L342.2,1570.0L345.8,1567.5L349.9,1565.2Z" fill="none" stroke="#63be3c" stroke-width="1.8" stroke-linejoin="round" stroke-linecap="round"/>
<path d="M354.9,1564.6L358.9,1563.2L363.0,1562.1L367.6,1561.3L371.2,1560.8L375.0,1560.4L379.1,1560.2L383.7,1560.1L388.0,1560.2L392.8,1560.2L397.9,1560.4L402.8,1560.6L407.3,1560.9L412.5,1561.4L417.4,1561.9L421.9,1562.6L425.8,1563.3L430.2,1565.5L434.3,1568.1L437.8,1569.6L441.9,1571.2L446.3,1572.8L450.6,1574.6L454.8,1576.5L459.0,1578.6L463.1,1580.7L467.3,1582.9L471.5,1585.0L475.8,1587.0L480.1,1589.2L484.4,1591.4L488.7,1593.9L492.9,1596.4L497.2,1599.0L501.4,1601.6L505.5,1604.2L509.6,1606.8L513.7,1609.3L517.7,1611.7L521.9,1613.9L526.4,1615.9L530.6,1617.9L534.3,1619.7L539.5,1622.8L543.2,1625.9L546.3,1629.8L548.7,1633.9L550.3,1638.1L552.1,1642.5L555.3,1646.8L560.1,1651.3L563.5,1653.9L567.6,1656.6L572.0,1659.2L576.3,1661.8L580.4,1664.1L584.6,1666.2L588.7,1668.3L592.6,1670.2L597.5,1672.5L602.1,1674.6L606.2,1676.7L611.4,1679.4L615.4,1682.8L617.3,1686.3L618.6,1690.6L619.4,1695.4L619.8,1699.3L620.1,1703.4L620.2,1707.7L620.2,1712.0L620.2,1716.2L620.0,1720.5L619.9,1724.7L619.9,1729.0L619.9,1733.3L620.1,1737.7L620.4,1741.9L620.7,1745.9L621.2,1750.8L621.8,1755.3L622.6,1759.4L624.4,1764.7L625.1,1769.2L618.6,1773.8L614.5,1774.5L609.9,1774.9L605.2,1775.3L600.7,1775.6L596.4,1776.1L592.1,1776.5L587.9,1776.9L583.7,1777.3L579.5,1777.8L575.3,1778.3L571.2,1778.8L567.1,1779.3L563.0,1779.7L558.9,1780.1L554.8,1780.5L550.7,1780.8L546.9,1781.1L543.4,1781.4L539.3,1781.6L533.9,1781.8L530.4,1781.9L526.5,1782.0L522.3,1782.1L517.8,1782.2L513.3,1782.3L508.8,1782.4L504.3,1782.5L500.1,1782.6L496.0,1782.8L492.1,1783.0L488.2,1783.2L484.2,1783.5L480.2,1783.7L476.0,1783.9L471.7,1784.0L467.0,1784.1L463.1,1784.1L459.0,1784.1L454.6,1783.9L450.2,1783.8L445.8,1783.6L441.3,1783.4L437.0,1783.2L432.8,1783.0L428.7,1782.8L425.0,1782.7L420.5,1782.6L416.1,1782.6L411.9,1782.6L407.8,1782.6L403.9,1782.7L400.0,1782.7L396.2,1782.8L392.4,1782.9L387.7,1782.9L383.3,1782.9L379.2,1782.9L375.1,1782.9L371.1,1782.9L367.0,1782.8L362.7,1782.7L358.4,1782.7L354.2,1782.6L350.0,1782.5L346.0,1782.3L342.3,1782.2L337.2,1781.9L332.6,1781.6L328.3,1781.2L324.3,1780.6L319.3,1779.7L315.0,1778.6L311.3,1777.3L306.9,1775.2L303.9,1772.4L301.8,1768.7L300.6,1764.1L300.5,1758.7L301.5,1752.7L302.8,1748.1L304.5,1743.1L306.5,1737.9L308.2,1733.8L310.0,1729.6L311.8,1725.3L313.4,1721.0L314.8,1716.7L316.0,1712.4L317.1,1708.2L318.2,1703.9L319.4,1699.7L320.7,1695.5L322.0,1691.3L323.1,1687.1L324.0,1682.9L324.7,1678.7L325.3,1674.5L325.9,1670.5L326.5,1665.4L327.0,1660.4L327.7,1655.8L328.9,1651.7L330.2,1648.0L331.6,1644.4L334.3,1639.2L336.7,1634.2L338.1,1628.9L338.3,1623.7L336.8,1618.7L334.7,1613.6L333.4,1609.8L332.3,1605.8L331.6,1601.7L331.5,1597.2L331.9,1592.7L332.6,1588.6L334.0,1583.5L336.3,1579.1L339.7,1575.0L344.1,1571.2L347.3,1568.9L350.9,1566.8Z" fill="none" stroke="#63be3c" stroke-width="1.3" stroke-linejoin="round" stroke-linecap="round"/>
<path d="M355.4,1566.0L359.1,1564.8L363.1,1563.8L367.5,1563.1L371.1,1562.6L374.9,1562.3L379.2,1562.0L383.9,1561.9L388.3,1561.8L393.2,1561.7L398.3,1561.8L403.2,1561.9L407.7,1562.1L412.8,1562.4L417.6,1562.9L422.1,1563.4L426.2,1564.1L430.5,1566.3L434.7,1569.0L438.1,1570.6L442.1,1572.4L446.7,1574.2L451.1,1576.0L455.5,1578.0L459.8,1580.2L464.1,1582.4L468.3,1584.5L472.6,1586.6L476.8,1588.6L481.1,1590.7L485.3,1592.8L489.5,1595.1L493.7,1597.5L497.8,1600.0L501.9,1602.5L506.0,1604.9L510.1,1607.5L514.2,1610.0L518.2,1612.4L522.6,1614.7L527.1,1616.9L531.6,1618.9L535.5,1620.7L541.0,1623.9L544.9,1627.0L548.3,1630.7L550.7,1634.8L552.1,1639.1L553.6,1643.6L556.5,1648.0L561.0,1652.6L564.2,1655.2L568.1,1657.9L572.4,1660.4L576.7,1662.8L580.9,1665.0L585.2,1667.1L589.4,1669.1L593.4,1671.0L598.5,1673.3L603.2,1675.4L607.5,1677.4L612.9,1680.1L617.2,1683.4L619.3,1686.7L620.5,1690.9L621.3,1695.8L621.6,1699.7L621.8,1703.9L621.8,1708.2L621.8,1712.5L621.8,1716.6L621.8,1720.8L621.8,1724.9L621.9,1729.1L622.1,1733.3L622.4,1737.6L622.7,1741.7L623.0,1745.6L623.5,1750.4L624.1,1755.0L624.7,1759.1L626.4,1764.3L626.7,1768.9L619.4,1773.7L614.7,1774.6L609.6,1775.1L604.9,1775.6L600.4,1776.1L596.3,1776.6L592.1,1777.1L588.0,1777.5L583.9,1778.0L579.8,1778.4L575.8,1778.8L571.6,1779.2L567.5,1779.5L563.3,1779.8L559.1,1780.1L554.9,1780.3L550.6,1780.6L546.8,1780.8L543.1,1781.1L539.0,1781.3L533.5,1781.6L530.1,1781.8L526.3,1782.0L522.2,1782.2L517.9,1782.4L513.5,1782.6L509.1,1782.9L504.7,1783.1L500.5,1783.3L496.4,1783.4L492.4,1783.6L488.4,1783.8L484.3,1783.9L480.1,1784.0L475.8,1784.1L471.3,1784.1L466.7,1784.0L462.8,1783.9L458.7,1783.8L454.4,1783.7L450.1,1783.5L445.8,1783.4L441.5,1783.2L437.3,1783.1L433.1,1783.1L429.1,1783.0L425.3,1783.0L420.7,1783.1L416.3,1783.1L411.9,1783.2L407.7,1783.2L403.6,1783.3L399.6,1783.3L395.8,1783.3L392.1,1783.3L387.4,1783.2L383.1,1783.1L379.1,1782.9L375.2,1782.8L371.3,1782.7L367.3,1782.5L363.1,1782.5L358.8,1782.4L354.5,1782.4L350.3,1782.3L346.2,1782.3L342.4,1782.2L337.2,1782.1L332.4,1781.9L328.1,1781.6L324.2,1781.2L319.4,1780.3L315.3,1779.2L312.0,1777.9L308.3,1775.7L305.9,1772.8L304.6,1768.9L303.8,1764.2L303.8,1758.7L304.8,1752.6L306.0,1748.0L307.6,1743.0L309.4,1737.8L310.9,1733.7L312.6,1729.5L314.3,1725.3L315.9,1721.0L317.2,1716.8L318.5,1712.6L319.6,1708.5L320.8,1704.4L322.2,1700.3L323.6,1696.2L325.0,1692.0L326.3,1687.8L327.2,1683.5L328.0,1679.2L328.6,1674.9L329.1,1670.8L329.6,1665.5L330.0,1660.4L330.5,1655.7L331.5,1651.6L332.6,1648.0L333.9,1644.4L336.6,1639.2L339.1,1634.1L340.8,1628.6L341.2,1623.5L339.8,1618.6L337.7,1613.6L336.5,1610.0L335.5,1606.1L334.9,1602.1L334.9,1597.7L335.1,1593.3L335.6,1589.3L336.7,1584.4L338.6,1580.1L341.5,1576.1L345.4,1572.3L348.3,1570.0L351.6,1567.8Z" fill="none" stroke="#63be3c" stroke-width="1.4" stroke-linejoin="round" stroke-linecap="round"/>
<path d="M356.7,1560.8L360.0,1559.2L363.9,1558.0L368.2,1557.0L371.8,1556.4L375.5,1555.9L379.6,1555.6L384.3,1555.4L388.5,1555.3L393.3,1555.3L398.4,1555.5L403.3,1555.7L407.9,1556.0L413.1,1556.5L418.2,1557.1L423.9,1558.0L429.5,1559.1L434.7,1561.5L439.2,1564.3L442.4,1565.8L445.9,1567.3L450.7,1569.0L455.5,1570.9L460.2,1572.8L464.7,1574.9L468.9,1577.0L473.0,1579.0L477.1,1581.0L481.2,1583.0L485.6,1585.1L490.0,1587.3L494.5,1589.7L498.8,1592.3L503.1,1594.9L507.3,1597.5L511.5,1600.1L515.7,1602.8L519.6,1605.3L523.5,1607.7L527.6,1610.0L532.0,1612.1L536.9,1614.3L541.7,1616.4L548.5,1620.0L553.8,1623.6L558.6,1628.1L561.7,1632.6L562.8,1636.6L563.3,1640.4L564.9,1644.0L567.9,1647.9L570.2,1650.1L573.5,1652.5L577.7,1655.1L581.9,1657.5L585.9,1659.8L590.1,1661.9L594.2,1664.0L598.2,1666.0L603.2,1668.5L608.1,1670.7L613.4,1673.1L620.6,1676.5L626.7,1680.8L630.7,1685.3L632.8,1690.3L633.8,1695.4L634.3,1699.4L634.6,1703.6L634.8,1707.9L634.9,1712.1L635.1,1716.2L635.1,1720.3L635.2,1724.5L635.3,1728.7L635.4,1732.9L635.6,1737.2L635.7,1741.4L635.9,1745.4L636.3,1750.3L636.5,1754.6L637.0,1758.7L638.9,1764.7L638.0,1769.1L626.3,1773.7L617.5,1774.3L610.4,1774.7L605.7,1775.1L601.3,1775.5L597.2,1775.8L593.2,1776.2L589.0,1776.5L584.9,1776.9L580.7,1777.2L576.5,1777.6L572.2,1778.0L567.9,1778.4L563.6,1778.8L559.2,1779.2L555.0,1779.6L550.8,1779.9L546.9,1780.3L543.4,1780.7L539.3,1781.0L533.9,1781.4L530.6,1781.5L526.8,1781.7L522.7,1781.9L518.4,1782.0L514.0,1782.1L509.4,1782.2L504.9,1782.2L500.6,1782.3L496.4,1782.4L492.3,1782.5L488.2,1782.6L484.1,1782.7L479.9,1782.9L475.6,1783.0L471.2,1783.1L466.7,1783.2L462.9,1783.2L458.9,1783.2L454.8,1783.2L450.6,1783.1L446.2,1783.1L441.9,1783.0L437.5,1782.9L433.3,1782.8L429.1,1782.6L425.2,1782.5L420.5,1782.4L415.9,1782.4L411.6,1782.3L407.4,1782.2L403.4,1782.2L399.5,1782.2L395.8,1782.1L392.2,1782.1L387.7,1782.0L383.5,1782.0L379.5,1782.0L375.5,1782.0L371.6,1782.0L367.5,1782.0L363.2,1782.0L358.8,1782.1L354.3,1782.1L350.0,1782.1L345.9,1782.0L342.1,1781.9L337.0,1781.7L332.3,1781.4L328.3,1781.0L324.6,1780.4L320.2,1779.4L316.5,1778.2L313.9,1776.9L311.0,1774.7L309.6,1771.9L309.3,1768.2L308.9,1763.7L308.9,1758.3L309.6,1751.8L310.5,1746.9L311.9,1741.7L313.7,1736.5L315.1,1732.4L316.8,1728.3L318.6,1724.1L320.4,1720.0L321.9,1715.9L323.3,1711.8L324.6,1707.6L325.9,1703.4L327.3,1699.1L328.7,1694.9L330.1,1690.7L331.3,1686.6L332.2,1682.4L332.9,1678.2L333.4,1674.0L333.8,1670.0L334.2,1664.7L334.5,1659.6L335.1,1654.8L335.9,1650.5L337.0,1646.4L338.3,1642.7L341.2,1637.8L344.1,1633.1L346.1,1628.6L346.6,1623.9L345.0,1618.9L342.6,1613.8L341.4,1610.0L340.5,1606.1L339.8,1602.0L339.7,1597.5L339.8,1592.6L340.0,1587.9L340.8,1582.0L342.1,1576.8L344.6,1572.0L348.0,1567.7L350.6,1564.9L353.6,1562.5Z" fill="none" stroke="#63be3c" stroke-width="1.0" stroke-linejoin="round" stroke-linecap="round"/>
<path d="M358.4,1559.1L361.4,1557.5L364.9,1556.3L369.0,1555.4L372.2,1554.9L375.7,1554.6L379.6,1554.4L384.1,1554.3L388.2,1554.3L393.0,1554.4L398.0,1554.5L403.1,1554.7L407.8,1555.0L413.2,1555.4L418.6,1555.9L424.7,1556.7L430.9,1557.7L436.3,1560.0L441.0,1562.8L444.0,1564.2L447.3,1565.6L452.0,1567.3L456.8,1569.2L461.4,1571.2L465.9,1573.4L470.0,1575.6L474.0,1577.8L478.1,1579.9L482.3,1582.0L486.8,1584.2L491.5,1586.5L496.1,1589.0L500.7,1591.6L505.1,1594.2L509.4,1596.8L513.6,1599.3L517.7,1601.8L521.5,1604.2L525.2,1606.4L529.0,1608.6L533.3,1610.6L538.2,1612.7L543.2,1614.8L550.4,1618.5L556.2,1622.4L561.5,1627.1L565.0,1631.9L566.2,1636.0L566.4,1639.7L567.7,1643.3L570.5,1647.1L572.4,1649.3L575.6,1651.8L579.7,1654.4L583.7,1656.8L587.5,1659.0L591.6,1661.1L595.5,1663.0L599.3,1664.9L604.3,1667.2L609.2,1669.4L614.9,1671.8L622.7,1675.2L629.6,1679.7L634.3,1684.5L636.7,1689.7L637.9,1694.9L638.6,1699.0L638.9,1703.4L639.1,1707.8L639.3,1712.1L639.3,1716.4L639.3,1720.6L639.2,1724.9L639.1,1729.1L639.2,1733.3L639.2,1737.6L639.4,1741.8L639.6,1745.7L639.9,1750.4L640.2,1754.6L640.8,1758.5L642.9,1764.5L641.7,1768.8L628.8,1773.2L618.8,1773.7L611.1,1774.1L606.2,1774.5L601.7,1774.9L597.6,1775.4L593.4,1775.8L589.1,1776.3L584.8,1776.8L580.6,1777.3L576.3,1777.8L572.0,1778.2L567.8,1778.7L563.5,1779.1L559.3,1779.4L555.2,1779.8L551.1,1780.0L547.4,1780.3L543.9,1780.5L539.8,1780.8L534.4,1781.0L530.9,1781.1L527.0,1781.1L522.8,1781.2L518.3,1781.4L513.8,1781.5L509.1,1781.6L504.6,1781.8L500.3,1782.0L496.2,1782.2L492.2,1782.4L488.2,1782.7L484.2,1782.9L480.2,1783.1L476.0,1783.3L471.6,1783.4L467.0,1783.4L463.2,1783.4L459.2,1783.3L455.0,1783.1L450.6,1783.0L446.2,1782.8L441.7,1782.5L437.3,1782.3L432.9,1782.2L428.8,1782.0L424.9,1781.9L420.3,1781.9L415.9,1781.9L411.6,1781.9L407.6,1782.0L403.7,1782.1L399.9,1782.2L396.1,1782.2L392.5,1782.3L387.9,1782.3L383.6,1782.3L379.5,1782.3L375.4,1782.2L371.4,1782.1L367.2,1782.0L362.8,1781.9L358.4,1781.8L354.1,1781.7L349.8,1781.6L345.9,1781.5L342.2,1781.3L337.3,1781.1L332.8,1780.8L328.9,1780.4L325.4,1779.9L321.2,1779.1L317.8,1778.0L315.6,1776.8L313.3,1774.8L312.7,1772.1L313.4,1768.6L313.5,1764.2L313.5,1758.8L314.1,1752.1L315.0,1747.0L316.4,1741.7L318.2,1736.3L319.7,1732.1L321.5,1727.8L323.5,1723.5L325.4,1719.4L327.0,1715.2L328.4,1711.1L329.6,1706.9L330.7,1702.7L332.0,1698.5L333.3,1694.4L334.6,1690.4L335.8,1686.4L336.7,1682.4L337.4,1678.3L338.0,1674.3L338.6,1670.4L339.1,1665.1L339.5,1660.0L340.1,1655.1L341.0,1650.5L341.9,1646.3L343.1,1642.4L346.1,1637.3L349.0,1632.7L351.2,1628.3L351.6,1623.5L349.7,1618.5L347.1,1613.3L345.8,1609.6L344.9,1605.7L344.4,1601.7L344.4,1597.3L344.5,1592.4L344.7,1587.7L345.2,1581.8L346.2,1576.4L348.2,1571.5L351.2,1567.1L353.2,1564.3L355.7,1561.7Z" fill="none" stroke="#63be3c" stroke-width="1.0" stroke-linejoin="round" stroke-linecap="round"/>
<path d="M347.2,1756.0L347.8,1752.0L349.1,1747.4L350.8,1742.5L352.3,1738.5L354.1,1734.2L355.9,1729.8L357.3,1725.4L358.3,1721.2L359.1,1717.0L359.7,1712.8L360.3,1708.6L360.9,1704.4L361.5,1700.3L362.2,1696.2L362.8,1692.1L363.6,1688.0L364.3,1683.9L365.0,1679.8L365.7,1675.7L366.4,1671.5L367.0,1667.4L367.6,1663.2L368.3,1659.0L369.1,1654.8L370.0,1650.6L371.0,1646.3L372.1,1642.0L373.2,1637.8L374.4,1633.5L375.7,1629.3L377.0,1625.1L378.1,1620.9L379.2,1616.7L380.3,1612.5L381.5,1608.4L382.9,1604.3L384.3,1600.2L385.9,1596.1L387.5,1592.0L389.3,1587.8L391.2,1583.6L393.3,1579.4L395.6,1575.5L398.2,1571.8L401.1,1568.2L404.1,1564.8L407.0,1562.0L410.3,1559.3L413.4,1557.4L417.2,1555.0L420.9,1552.5L425.1,1549.7L429.4,1547.0L433.7,1544.8L437.8,1543.5L442.0,1542.6L446.2,1542.1L450.3,1541.7L454.4,1541.3L458.4,1541.1L462.5,1541.1L466.6,1541.1L470.7,1541.2L474.9,1541.4L479.1,1541.7L483.3,1542.1L487.6,1542.6L491.9,1543.2L496.2,1544.0L500.5,1545.2L504.7,1546.8L508.9,1548.8L513.1,1551.0L517.2,1553.2L521.3,1555.5L525.4,1558.0L529.4,1560.6L533.5,1563.3L536.8,1565.6L540.1,1568.0L543.4,1570.4L546.8,1572.9L550.2,1575.3L553.6,1577.8L557.1,1580.1L560.5,1582.5L564.0,1584.9L567.4,1587.2L570.7,1589.5L574.1,1591.8L577.3,1594.1L580.6,1596.4L583.8,1598.5L587.9,1601.1L592.0,1603.6L596.1,1606.0L600.2,1608.3L604.4,1610.5L608.6,1612.5L612.8,1614.6L617.1,1616.8L621.5,1619.3L625.9,1621.9L630.2,1624.5L634.2,1627.2L637.9,1629.8L641.4,1632.4L644.6,1634.9L647.4,1637.3L651.9,1641.6L655.6,1645.6L658.5,1649.8L662.1,1653.8L666.0,1656.0L670.6,1658.0L674.8,1660.2L679.3,1664.1L682.6,1668.3L684.6,1673.5L685.3,1678.3L682.0,1683.4L678.3,1685.1L673.8,1686.9L668.7,1689.2L663.7,1692.0L659.3,1695.2L655.1,1698.9L650.7,1702.8L646.6,1707.3L644.0,1710.8L641.7,1714.6L639.8,1719.0L638.7,1722.8L638.0,1727.1L637.4,1731.4L636.7,1735.4L635.8,1740.1L634.9,1744.4L633.6,1748.5L631.7,1752.8L629.3,1756.9L626.9,1760.2L623.2,1763.4L620.0,1765.3L617.1,1767.6L614.1,1767.8L610.3,1768.0L605.8,1768.2L601.0,1768.3L596.3,1768.4L592.0,1768.5L587.8,1768.6L583.5,1768.7L579.2,1768.8L575.0,1768.8L571.1,1768.9L567.4,1769.0L562.6,1769.3L558.4,1769.5L554.5,1769.9L550.4,1770.4L546.1,1771.1L541.8,1771.9L537.6,1772.8L533.4,1773.8L529.2,1774.9L525.1,1776.1L520.9,1777.2L516.9,1778.3L513.2,1779.2L509.8,1780.0L505.8,1780.7L500.5,1781.3L497.2,1781.6L493.5,1781.9L489.5,1782.1L485.2,1782.3L480.7,1782.4L476.1,1782.5L471.3,1782.5L466.6,1782.5L462.6,1782.5L458.3,1782.4L453.8,1782.3L449.2,1782.1L444.7,1782.0L440.2,1781.9L436.0,1781.8L432.0,1781.7L428.4,1781.7L425.4,1781.7L418.7,1781.6L415.0,1781.6L410.8,1781.3L406.3,1781.0L401.5,1780.5L396.7,1779.9L392.0,1779.2L387.6,1778.5L383.4,1777.6L379.3,1776.6L375.4,1775.6L370.2,1774.0L365.2,1772.3L360.7,1770.4L356.5,1768.3L352.8,1766.1L350.0,1763.8L347.8,1760.1Z" fill="none" stroke="#0a22d6" stroke-width="1.8" stroke-linejoin="round" stroke-linecap="round"/>
<path d="M350.5,1755.5L350.9,1751.6L352.0,1747.2L353.4,1742.3L354.7,1738.5L356.4,1734.3L358.2,1730.0L359.7,1725.8L360.9,1721.6L361.8,1717.5L362.5,1713.3L363.3,1709.2L364.1,1705.1L364.9,1700.9L365.6,1696.8L366.2,1692.6L366.9,1688.3L367.5,1684.1L368.1,1679.8L368.7,1675.6L369.2,1671.3L369.6,1667.1L370.1,1662.8L370.8,1658.7L371.6,1654.5L372.6,1650.3L373.7,1646.2L374.8,1642.1L376.1,1638.0L377.5,1633.9L378.9,1629.8L380.3,1625.7L381.4,1621.6L382.4,1617.4L383.4,1613.3L384.5,1609.2L385.7,1605.1L387.0,1600.9L388.3,1596.7L389.8,1592.5L391.5,1588.2L393.4,1583.9L395.4,1579.6L397.7,1575.7L400.3,1572.0L403.3,1568.5L406.3,1565.3L409.1,1562.6L412.2,1560.1L415.3,1558.3L419.0,1556.2L422.6,1553.9L426.5,1551.2L430.5,1548.6L434.4,1546.7L438.1,1545.4L442.0,1544.6L446.0,1544.1L450.0,1543.6L454.1,1543.1L458.3,1542.8L462.5,1542.6L466.7,1542.5L471.0,1542.4L475.3,1542.5L479.5,1542.7L483.8,1543.0L488.0,1543.5L492.2,1544.1L496.3,1545.0L500.4,1546.3L504.5,1548.0L508.6,1550.1L512.7,1552.4L516.7,1554.8L520.9,1557.2L525.0,1559.7L529.2,1562.3L533.4,1565.0L536.9,1567.2L540.3,1569.5L543.8,1571.8L547.2,1574.2L550.6,1576.5L554.0,1578.7L557.4,1581.0L560.7,1583.2L563.9,1585.5L567.2,1587.8L570.4,1590.1L573.6,1592.5L576.9,1594.9L580.2,1597.3L583.5,1599.6L587.7,1602.4L591.9,1605.0L596.2,1607.6L600.5,1610.1L604.8,1612.3L609.0,1614.4L613.3,1616.4L617.5,1618.5L621.8,1620.9L626.0,1623.3L630.2,1625.8L634.0,1628.2L637.6,1630.7L641.0,1633.1L644.2,1635.5L647.0,1637.8L651.6,1641.9L655.4,1646.0L658.5,1650.3L662.2,1654.5L666.3,1657.0L671.0,1659.2L675.2,1661.5L679.7,1665.2L683.0,1669.3L684.9,1674.1L685.4,1678.9L682.1,1684.0L678.2,1685.8L673.5,1687.4L668.5,1689.7L663.5,1692.3L659.3,1695.4L655.4,1698.8L651.3,1702.6L647.5,1707.0L645.4,1710.4L643.5,1714.1L642.0,1718.5L641.1,1722.4L640.4,1726.7L639.7,1731.2L639.0,1735.3L637.9,1740.1L636.8,1744.6L635.3,1748.9L633.1,1753.3L630.5,1757.5L627.8,1760.9L624.0,1764.0L620.5,1766.0L617.4,1768.1L614.3,1768.3L610.4,1768.3L606.1,1768.3L601.4,1768.2L596.8,1768.2L592.4,1768.2L588.2,1768.3L583.8,1768.3L579.4,1768.4L575.0,1768.5L570.9,1768.7L567.1,1769.0L562.3,1769.4L558.1,1769.8L554.2,1770.3L550.3,1771.0L546.1,1771.7L542.0,1772.6L538.0,1773.5L533.9,1774.5L529.9,1775.5L525.8,1776.6L521.7,1777.6L517.5,1778.5L513.7,1779.3L510.1,1779.9L505.9,1780.5L500.4,1781.0L497.0,1781.3L493.2,1781.5L489.1,1781.8L484.9,1782.0L480.4,1782.3L475.9,1782.5L471.3,1782.7L466.7,1782.8L462.9,1782.9L458.7,1783.0L454.3,1782.9L449.7,1782.9L445.1,1782.7L440.5,1782.6L436.1,1782.4L432.0,1782.2L428.3,1782.0L425.1,1781.9L418.3,1781.6L414.6,1781.4L410.5,1781.1L406.1,1780.7L401.5,1780.1L396.8,1779.6L392.4,1778.9L388.2,1778.2L384.2,1777.5L380.2,1776.7L376.3,1775.8L371.2,1774.4L366.2,1772.8L361.7,1771.0L357.6,1769.0L354.2,1766.8L351.9,1764.4L350.2,1760.6Z" fill="none" stroke="#0a22d6" stroke-width="1.3" stroke-linejoin="round" stroke-linecap="round"/>
<path d="M354.1,1755.6L354.4,1752.0L355.3,1747.9L356.7,1743.2L358.1,1739.4L359.9,1735.3L361.9,1730.9L363.7,1726.5L365.0,1722.1L366.1,1717.8L366.9,1713.5L367.7,1709.2L368.4,1704.9L369.0,1700.6L369.6,1696.4L370.1,1692.1L370.6,1687.9L371.1,1683.8L371.6,1679.6L372.2,1675.5L372.7,1671.3L373.3,1667.3L373.9,1663.2L374.7,1659.2L375.6,1655.1L376.7,1651.1L377.9,1647.0L379.1,1642.9L380.3,1638.7L381.6,1634.5L382.9,1630.3L384.1,1626.0L385.2,1621.7L386.0,1617.4L386.9,1613.2L387.9,1609.0L389.0,1604.8L390.3,1600.7L391.7,1596.6L393.3,1592.5L395.1,1588.3L397.0,1584.2L399.1,1580.2L401.3,1576.5L403.7,1573.1L406.5,1569.7L409.2,1566.7L411.6,1564.2L414.3,1561.8L417.0,1560.0L420.5,1557.8L424.0,1555.4L427.8,1552.6L431.6,1549.9L435.2,1547.9L438.6,1546.6L442.3,1545.7L446.3,1545.1L450.4,1544.5L454.6,1544.1L458.8,1543.8L462.9,1543.7L467.1,1543.7L471.3,1543.8L475.5,1544.0L479.6,1544.3L483.7,1544.8L487.7,1545.4L491.8,1546.1L495.9,1547.0L500.0,1548.2L504.1,1549.8L508.3,1551.8L512.5,1553.9L516.8,1556.2L521.1,1558.4L525.3,1560.8L529.6,1563.2L533.9,1565.7L537.3,1567.9L540.7,1570.1L544.0,1572.5L547.3,1574.8L550.5,1577.2L553.7,1579.6L557.0,1582.0L560.2,1584.4L563.5,1586.9L566.8,1589.3L570.1,1591.7L573.5,1594.2L576.9,1596.6L580.4,1599.0L583.8,1601.3L588.1,1603.9L592.4,1606.5L596.6,1608.9L600.8,1611.2L605.0,1613.4L609.1,1615.3L613.2,1617.2L617.2,1619.3L621.4,1621.6L625.6,1624.0L629.7,1626.6L633.6,1629.1L637.3,1631.6L640.9,1634.2L644.2,1636.7L647.2,1639.1L651.9,1643.3L655.8,1647.3L658.9,1651.8L662.6,1656.1L666.6,1658.7L671.2,1660.9L675.2,1662.9L679.6,1666.2L682.7,1669.9L684.5,1674.1L685.0,1678.7L681.7,1683.7L677.9,1685.4L673.4,1687.1L668.5,1689.3L663.8,1692.0L659.9,1695.1L656.3,1698.7L652.5,1702.6L649.0,1707.1L647.1,1710.6L645.5,1714.5L644.0,1719.0L643.0,1722.9L642.2,1727.3L641.4,1731.7L640.5,1735.8L639.4,1740.5L638.2,1744.9L636.7,1749.1L634.5,1753.3L631.9,1757.4L629.2,1760.6L625.4,1763.7L621.7,1765.6L618.3,1767.7L615.0,1767.9L610.8,1768.0L606.4,1768.1L601.6,1768.2L596.8,1768.3L592.3,1768.5L587.9,1768.6L583.4,1768.8L578.9,1769.0L574.6,1769.3L570.6,1769.5L566.9,1769.7L562.2,1770.0L558.2,1770.3L554.6,1770.7L550.8,1771.2L546.8,1771.8L542.7,1772.5L538.7,1773.4L534.6,1774.2L530.4,1775.2L526.2,1776.2L521.9,1777.3L517.6,1778.3L513.6,1779.1L509.8,1779.9L505.6,1780.7L500.2,1781.3L496.8,1781.7L493.2,1782.1L489.3,1782.4L485.1,1782.7L480.8,1783.0L476.4,1783.2L471.8,1783.3L467.1,1783.3L463.2,1783.3L458.9,1783.1L454.3,1783.0L449.6,1782.7L444.9,1782.5L440.2,1782.3L435.7,1782.0L431.6,1781.9L428.0,1781.7L424.8,1781.6L418.2,1781.5L414.7,1781.5L410.8,1781.3L406.7,1781.0L402.1,1780.6L397.6,1780.2L393.1,1779.6L388.9,1779.0L384.8,1778.2L380.8,1777.3L376.9,1776.3L371.7,1774.8L366.8,1773.1L362.5,1771.1L358.7,1769.0L356.0,1766.6L354.8,1764.0L353.8,1760.1Z" fill="none" stroke="#0a22d6" stroke-width="1.6" stroke-linejoin="round" stroke-linecap="round"/>
<path d="M357.9,1755.9L358.3,1751.7L359.3,1746.9L360.7,1741.8L362.1,1737.7L364.0,1733.4L366.1,1729.1L367.8,1724.9L369.2,1720.8L370.1,1716.7L370.8,1712.5L371.4,1708.4L372.0,1704.3L372.5,1700.2L373.0,1696.1L373.6,1692.1L374.2,1688.0L374.9,1683.8L375.5,1679.7L376.3,1675.6L377.0,1671.4L377.6,1667.2L378.3,1662.9L379.0,1658.6L379.9,1654.3L380.8,1650.0L381.8,1645.7L382.9,1641.5L383.9,1637.2L385.1,1633.0L386.3,1628.8L387.5,1624.6L388.6,1620.5L389.5,1616.4L390.5,1612.3L391.6,1608.1L392.9,1604.0L394.3,1599.8L395.7,1595.7L397.4,1591.5L399.1,1587.2L400.9,1582.9L402.7,1578.6L404.5,1574.4L406.6,1570.5L409.0,1566.7L411.4,1563.3L413.5,1560.3L415.9,1557.5L418.5,1555.5L422.0,1553.1L425.6,1550.7L429.6,1547.9L433.3,1545.1L436.6,1542.9L439.8,1541.5L443.2,1540.6L447.1,1540.1L451.0,1539.6L455.0,1539.3L459.0,1539.1L462.9,1539.0L466.9,1539.0L471.0,1539.1L475.0,1539.2L479.1,1539.4L483.3,1539.8L487.4,1540.3L491.6,1540.9L495.9,1541.7L500.1,1542.9L504.4,1544.6L508.7,1546.7L513.0,1549.0L517.2,1551.3L521.4,1553.7L525.6,1556.2L529.7,1558.9L533.8,1561.7L537.1,1564.0L540.3,1566.4L543.5,1568.9L546.8,1571.4L550.1,1573.8L553.4,1576.1L556.8,1578.5L560.2,1580.8L563.6,1583.1L567.1,1585.4L570.5,1587.7L574.0,1590.0L577.4,1592.2L580.7,1594.5L584.1,1596.6L588.2,1599.2L592.3,1601.7L596.4,1604.1L600.5,1606.5L604.5,1608.7L608.6,1610.7L612.7,1612.8L616.9,1615.1L621.2,1617.6L625.6,1620.3L629.9,1622.9L633.9,1625.5L637.7,1628.2L641.3,1630.8L644.6,1633.3L647.6,1635.7L652.2,1640.1L655.9,1644.1L658.9,1648.2L662.4,1652.1L666.3,1654.1L670.8,1656.1L674.8,1658.5L679.2,1662.7L682.4,1667.5L684.3,1673.4L685.0,1678.4L682.0,1683.4L678.4,1685.1L673.9,1686.8L669.3,1689.2L664.7,1692.0L661.0,1695.2L657.6,1698.8L654.1,1702.7L650.9,1707.2L649.5,1710.6L648.3,1714.4L647.3,1718.8L646.4,1722.6L645.7,1726.9L645.0,1731.2L644.2,1735.2L643.2,1739.9L642.2,1744.3L640.6,1748.4L638.4,1752.7L635.4,1756.8L632.3,1760.2L628.1,1763.3L623.6,1765.3L619.3,1767.5L615.3,1767.8L610.6,1767.9L606.0,1768.0L601.2,1768.1L596.4,1768.1L591.9,1768.2L587.6,1768.3L583.3,1768.3L579.0,1768.3L574.8,1768.4L570.9,1768.5L567.4,1768.6L562.8,1768.8L558.9,1769.2L555.2,1769.6L551.4,1770.1L547.3,1770.9L543.1,1771.7L539.0,1772.7L534.8,1773.7L530.6,1774.8L526.3,1776.0L522.1,1777.2L517.8,1778.2L513.9,1779.1L510.2,1779.8L506.1,1780.5L500.7,1781.0L497.4,1781.3L493.7,1781.5L489.8,1781.7L485.6,1781.8L481.1,1782.0L476.5,1782.1L471.7,1782.1L466.9,1782.2L462.8,1782.2L458.5,1782.1L453.9,1782.0L449.2,1782.0L444.6,1781.9L440.1,1781.8L435.8,1781.7L431.8,1781.7L428.3,1781.6L425.3,1781.5L418.7,1781.4L415.2,1781.3L411.3,1781.1L407.1,1780.7L402.5,1780.1L397.7,1779.5L393.2,1778.8L389.0,1778.0L384.9,1777.2L380.9,1776.2L377.2,1775.2L372.3,1773.7L367.6,1772.0L363.7,1770.2L360.4,1768.2L358.5,1766.1L358.3,1763.8L358.0,1760.2Z" fill="none" stroke="#0a22d6" stroke-width="1.2" stroke-linejoin="round" stroke-linecap="round"/>
<path d="M362.3,1755.4L362.7,1751.8L363.5,1747.7L364.7,1743.1L366.0,1739.4L367.7,1735.3L369.6,1731.0L371.3,1726.6L372.6,1722.3L373.5,1718.0L374.3,1713.8L375.0,1709.6L375.7,1705.4L376.4,1701.2L377.1,1696.9L377.8,1692.7L378.5,1688.5L379.2,1684.2L379.9,1679.9L380.6,1675.7L381.2,1671.4L381.7,1667.2L382.2,1663.1L382.8,1659.0L383.5,1654.9L384.3,1650.9L385.2,1646.9L386.2,1642.8L387.3,1638.8L388.6,1634.7L390.0,1630.6L391.4,1626.4L392.6,1622.2L393.7,1618.0L394.8,1613.9L395.9,1609.7L397.1,1605.6L398.3,1601.5L399.6,1597.3L401.0,1593.2L402.5,1589.0L404.1,1584.8L405.6,1580.7L407.2,1577.1L409.2,1573.6L411.4,1570.3L413.7,1567.3L415.7,1564.8L418.0,1562.6L420.5,1560.9L424.2,1558.9L427.9,1556.5L431.7,1553.8L435.2,1551.4L438.1,1549.6L440.7,1548.4L443.7,1547.7L447.2,1547.1L450.9,1546.5L454.7,1546.1L458.6,1545.7L462.5,1545.5L466.5,1545.4L470.7,1545.4L474.9,1545.4L479.2,1545.6L483.5,1546.0L487.8,1546.6L492.1,1547.2L496.3,1548.1L500.5,1549.3L504.7,1550.9L508.9,1552.9L513.0,1555.2L517.1,1557.5L521.1,1559.9L525.2,1562.3L529.3,1564.9L533.4,1567.4L536.7,1569.6L540.1,1571.8L543.5,1574.1L546.9,1576.4L550.3,1578.7L553.8,1580.9L557.2,1583.2L560.6,1585.5L564.0,1587.8L567.4,1590.1L570.7,1592.5L574.0,1595.0L577.2,1597.4L580.5,1599.9L583.7,1602.3L587.8,1605.1L591.9,1607.8L596.0,1610.3L600.2,1612.8L604.4,1615.0L608.7,1617.1L613.0,1619.0L617.3,1621.1L621.6,1623.3L626.0,1625.7L630.3,1628.1L634.2,1630.5L637.9,1632.9L641.3,1635.3L644.5,1637.6L647.3,1639.8L651.8,1643.9L655.4,1647.8L658.4,1652.3L662.0,1656.9L666.0,1659.6L670.7,1661.9L674.9,1663.9L679.4,1667.2L682.7,1670.7L684.8,1674.4L685.4,1679.0L682.5,1684.2L678.9,1686.0L674.3,1687.7L669.6,1689.9L665.2,1692.5L661.7,1695.5L658.6,1698.9L655.6,1702.7L653.0,1707.1L652.3,1710.5L652.1,1714.2L651.8,1718.6L651.3,1722.5L650.8,1726.9L650.2,1731.3L649.6,1735.5L648.5,1740.4L647.3,1744.9L645.5,1749.2L642.9,1753.5L639.3,1757.7L635.5,1761.1L630.7,1764.3L625.3,1766.2L620.0,1768.4L615.4,1768.5L610.3,1768.5L605.8,1768.5L601.1,1768.4L596.5,1768.4L592.2,1768.5L588.0,1768.5L583.8,1768.7L579.5,1768.8L575.3,1769.0L571.3,1769.2L567.7,1769.5L563.0,1769.9L559.0,1770.3L555.2,1770.9L551.4,1771.5L547.4,1772.2L543.3,1773.0L539.3,1773.9L535.3,1774.8L531.3,1775.8L527.2,1776.8L523.1,1777.8L518.9,1778.7L515.0,1779.5L511.2,1780.1L506.9,1780.8L501.3,1781.3L497.7,1781.6L493.9,1781.9L489.8,1782.2L485.4,1782.5L480.8,1782.8L476.1,1783.0L471.3,1783.2L466.6,1783.4L462.6,1783.5L458.4,1783.5L454.0,1783.4L449.5,1783.3L445.0,1783.1L440.6,1782.9L436.3,1782.7L432.3,1782.5L428.6,1782.2L425.5,1782.0L418.8,1781.8L415.1,1781.6L411.1,1781.3L406.8,1780.9L402.2,1780.5L397.6,1779.9L393.2,1779.3L389.2,1778.7L385.3,1778.0L381.6,1777.2L378.1,1776.3L373.5,1774.9L369.1,1773.3L365.4,1771.4L362.4,1769.4L361.0,1767.1L361.5,1764.6L361.8,1760.6Z" fill="none" stroke="#0a22d6" stroke-width="1.2" stroke-linejoin="round" stroke-linecap="round"/>
<path d="M367.4,1755.8L367.5,1752.0L368.0,1747.6L369.0,1742.8L370.1,1738.9L371.8,1734.6L373.8,1730.3L375.7,1725.9L377.2,1721.6L378.4,1717.3L379.3,1713.0L380.2,1708.8L381.0,1704.5L381.7,1700.3L382.4,1696.1L383.1,1691.9L383.7,1687.8L384.2,1683.6L384.8,1679.5L385.3,1675.4L385.8,1671.3L386.2,1667.3L386.7,1663.2L387.3,1659.1L388.0,1655.0L388.9,1650.8L390.0,1646.6L391.1,1642.4L392.4,1638.2L393.8,1634.0L395.2,1629.7L396.6,1625.4L397.8,1621.2L398.8,1616.9L399.7,1612.7L400.6,1608.5L401.5,1604.3L402.6,1600.2L403.7,1596.0L405.1,1591.9L406.5,1587.8L408.1,1583.6L409.6,1579.5L411.2,1575.7L413.0,1572.1L415.2,1568.6L417.3,1565.4L419.0,1562.7L420.9,1560.1L423.2,1558.3L426.7,1556.0L430.2,1553.5L433.9,1550.6L436.8,1547.9L439.2,1545.7L441.3,1544.3L443.9,1543.4L447.2,1542.8L450.9,1542.3L454.8,1541.9L458.7,1541.7L462.7,1541.6L466.8,1541.6L471.1,1541.8L475.4,1542.0L479.6,1542.3L483.8,1542.8L488.0,1543.4L492.1,1544.1L496.2,1544.9L500.3,1546.1L504.4,1547.8L508.4,1549.7L512.5,1551.9L516.7,1554.2L520.8,1556.4L525.0,1558.8L529.3,1561.3L533.6,1563.9L537.0,1566.1L540.5,1568.4L543.9,1570.8L547.3,1573.2L550.7,1575.7L554.0,1578.1L557.3,1580.5L560.6,1582.9L563.8,1585.3L567.0,1587.7L570.3,1590.2L573.5,1592.6L576.8,1594.9L580.2,1597.3L583.5,1599.4L587.8,1602.0L592.0,1604.5L596.3,1606.9L600.6,1609.2L604.9,1611.3L609.1,1613.2L613.3,1615.2L617.5,1617.4L621.7,1619.7L625.9,1622.3L630.0,1624.9L633.9,1627.5L637.4,1630.1L640.9,1632.7L644.1,1635.3L647.0,1637.8L651.6,1642.0L655.4,1646.1L658.6,1650.5L662.3,1654.6L666.4,1656.9L671.2,1659.0L675.3,1661.1L679.8,1664.8L682.9,1668.9L684.8,1673.7L685.3,1678.4L682.4,1683.4L678.7,1685.1L674.1,1686.8L669.5,1689.1L665.3,1691.8L662.2,1695.0L659.6,1698.6L657.1,1702.6L655.2,1707.2L655.2,1710.7L655.7,1714.6L655.9,1719.0L655.5,1722.9L655.0,1727.3L654.4,1731.7L653.5,1735.7L652.3,1740.4L650.8,1744.7L648.8,1748.8L645.9,1753.0L642.0,1757.0L637.8,1760.3L632.8,1763.4L626.8,1765.3L621.0,1767.5L616.0,1767.7L610.7,1767.8L606.3,1768.0L601.6,1768.1L596.9,1768.2L592.6,1768.4L588.3,1768.6L583.9,1768.7L579.4,1768.9L575.1,1769.1L571.0,1769.2L567.4,1769.4L562.7,1769.6L558.8,1769.9L555.2,1770.3L551.6,1770.8L547.8,1771.4L544.0,1772.1L540.2,1772.9L536.3,1773.8L532.4,1774.8L528.3,1776.0L524.1,1777.1L519.7,1778.1L515.5,1779.0L511.5,1779.8L507.0,1780.6L501.2,1781.3L497.5,1781.6L493.6,1782.0L489.5,1782.3L485.2,1782.5L480.7,1782.7L476.2,1782.9L471.5,1782.9L466.9,1782.9L463.0,1782.8L458.9,1782.7L454.5,1782.5L449.9,1782.3L445.3,1782.1L440.7,1781.9L436.3,1781.7L432.1,1781.6L428.3,1781.5L425.1,1781.5L418.4,1781.4L414.8,1781.4L411.0,1781.2L406.9,1780.9L402.5,1780.5L398.1,1780.0L394.0,1779.4L390.1,1778.7L386.3,1777.9L382.8,1777.0L379.4,1776.0L374.7,1774.4L370.4,1772.6L366.8,1770.7L364.1,1768.6L363.3,1766.3L364.9,1763.8L366.0,1760.0Z" fill="none" stroke="#0a22d6" stroke-width="1.2" stroke-linejoin="round" stroke-linecap="round"/>
<path d="M351.9,1755.7L352.4,1751.6L353.4,1746.9L354.9,1741.9L356.3,1737.9L358.2,1733.6L360.2,1729.3L362.0,1725.1L363.3,1721.0L364.2,1716.9L365.0,1712.8L365.7,1708.7L366.4,1704.6L367.0,1700.5L367.5,1696.4L368.0,1692.3L368.5,1688.2L369.0,1684.0L369.6,1679.8L370.2,1675.6L370.8,1671.4L371.4,1667.2L372.1,1662.9L372.9,1658.6L373.9,1654.3L375.0,1650.1L376.1,1645.8L377.3,1641.6L378.5,1637.4L379.7,1633.2L381.0,1629.1L382.1,1624.9L383.1,1620.8L384.0,1616.8L384.8,1612.7L385.9,1608.5L387.1,1604.4L388.4,1600.3L389.9,1596.1L391.6,1591.9L393.5,1587.6L395.5,1583.2L397.6,1578.9L399.8,1574.9L402.3,1571.0L405.1,1567.3L407.9,1563.9L410.4,1560.9L413.2,1558.2L415.9,1556.3L419.5,1554.1L423.0,1551.6L426.9,1548.9L430.8,1546.2L434.6,1544.1L438.3,1542.8L442.2,1542.0L446.3,1541.4L450.5,1541.0L454.7,1540.6L458.8,1540.4L463.0,1540.3L467.1,1540.2L471.3,1540.2L475.4,1540.3L479.5,1540.5L483.5,1540.8L487.6,1541.3L491.7,1541.9L495.8,1542.7L500.0,1543.9L504.1,1545.6L508.4,1547.7L512.6,1550.0L516.9,1552.4L521.2,1554.8L525.5,1557.4L529.7,1560.0L534.0,1562.8L537.3,1565.1L540.6,1567.5L543.9,1569.9L547.1,1572.4L550.4,1574.7L553.6,1577.0L556.8,1579.3L560.1,1581.6L563.4,1583.9L566.8,1586.1L570.2,1588.4L573.6,1590.7L577.1,1593.0L580.5,1595.3L584.0,1597.5L588.2,1600.2L592.4,1602.7L596.6,1605.2L600.8,1607.6L604.9,1609.9L608.9,1612.0L613.0,1614.1L617.1,1616.3L621.2,1618.8L625.5,1621.3L629.7,1623.9L633.6,1626.5L637.4,1629.0L641.0,1631.6L644.3,1634.0L647.4,1636.4L652.1,1640.6L655.9,1644.7L659.0,1648.8L662.6,1652.8L666.6,1654.9L671.1,1657.0L675.1,1659.4L679.5,1663.5L682.5,1668.0L684.4,1673.6L684.9,1678.6L681.7,1683.6L678.0,1685.4L673.5,1687.1L668.8,1689.4L664.2,1692.2L660.4,1695.3L657.0,1698.9L653.3,1702.7L650.1,1707.1L648.4,1710.5L647.0,1714.3L645.8,1718.6L644.8,1722.5L644.0,1726.7L643.2,1731.1L642.3,1735.1L641.2,1739.9L640.1,1744.3L638.5,1748.5L636.3,1752.9L633.5,1757.0L630.7,1760.4L626.7,1763.6L622.7,1765.6L618.9,1767.8L615.2,1768.0L610.8,1768.1L606.3,1768.2L601.5,1768.2L596.7,1768.2L592.2,1768.2L587.8,1768.2L583.3,1768.3L578.9,1768.3L574.6,1768.4L570.6,1768.5L567.0,1768.6L562.4,1768.9L558.5,1769.3L554.8,1769.8L551.1,1770.4L547.1,1771.1L543.0,1772.0L538.9,1773.0L534.8,1774.0L530.6,1775.1L526.3,1776.3L522.0,1777.4L517.7,1778.4L513.7,1779.2L510.0,1779.9L505.8,1780.5L500.3,1781.1L497.0,1781.3L493.3,1781.5L489.5,1781.6L485.3,1781.8L481.0,1782.0L476.5,1782.1L471.9,1782.2L467.1,1782.3L463.1,1782.3L458.8,1782.3L454.2,1782.3L449.4,1782.3L444.7,1782.2L440.0,1782.1L435.6,1782.0L431.6,1781.9L427.9,1781.8L424.9,1781.7L418.3,1781.5L414.8,1781.4L410.9,1781.1L406.7,1780.7L402.1,1780.1L397.5,1779.5L393.0,1778.8L388.7,1778.0L384.5,1777.2L380.4,1776.3L376.4,1775.3L371.2,1773.8L366.2,1772.2L361.8,1770.4L357.9,1768.5L355.0,1766.3L353.3,1764.0L352.1,1760.4Z" fill="none" stroke="#0a22d6" stroke-width="1.0" stroke-linejoin="round" stroke-linecap="round"/>
<path d="M360.0,1755.4L360.4,1751.7L361.3,1747.4L362.7,1742.7L364.1,1738.9L365.9,1734.8L367.9,1730.5L369.7,1726.3L371.0,1722.0L371.9,1717.8L372.6,1713.6L373.2,1709.3L373.8,1705.1L374.4,1700.9L375.0,1696.6L375.6,1692.3L376.2,1688.1L376.9,1683.8L377.6,1679.6L378.4,1675.3L379.1,1671.1L379.7,1667.0L380.3,1662.9L381.0,1658.8L381.8,1654.7L382.7,1650.7L383.6,1646.6L384.6,1642.6L385.7,1638.5L386.8,1634.4L388.1,1630.2L389.4,1626.0L390.5,1621.8L391.5,1617.6L392.5,1613.4L393.7,1609.2L394.9,1605.0L396.3,1600.7L397.7,1596.5L399.3,1592.3L400.9,1588.1L402.6,1583.8L404.3,1579.7L406.0,1575.9L408.0,1572.4L410.3,1569.0L412.5,1565.9L414.5,1563.3L416.8,1560.9L419.4,1559.2L423.0,1557.1L426.6,1554.7L430.6,1552.0L434.2,1549.4L437.3,1547.4L440.3,1546.1L443.6,1545.2L447.3,1544.6L451.1,1544.0L455.0,1543.5L458.9,1543.2L462.8,1543.0L466.8,1542.9L470.8,1542.9L474.9,1543.0L479.1,1543.3L483.2,1543.7L487.5,1544.3L491.7,1545.0L496.0,1546.0L500.3,1547.2L504.6,1548.9L508.8,1551.0L513.1,1553.3L517.3,1555.6L521.4,1557.9L525.5,1560.4L529.6,1562.8L533.7,1565.4L536.9,1567.5L540.2,1569.8L543.4,1572.0L546.7,1574.4L550.1,1576.7L553.5,1579.0L556.9,1581.3L560.3,1583.6L563.8,1586.0L567.2,1588.4L570.7,1590.8L574.0,1593.3L577.4,1595.8L580.7,1598.2L584.0,1600.5L588.1,1603.3L592.2,1605.9L596.2,1608.4L600.3,1610.8L604.4,1612.9L608.6,1614.9L612.7,1616.8L617.0,1618.9L621.3,1621.2L625.7,1623.6L630.0,1626.0L634.1,1628.5L637.8,1630.9L641.4,1633.5L644.7,1635.9L647.6,1638.3L652.1,1642.5L655.8,1646.6L658.7,1651.0L662.2,1655.3L666.1,1657.9L670.7,1660.1L674.7,1662.3L679.2,1665.9L682.4,1669.8L684.4,1674.2L685.1,1678.9L682.2,1684.0L678.6,1685.6L674.1,1687.2L669.5,1689.4L665.0,1692.1L661.4,1695.1L658.1,1698.6L654.7,1702.4L651.8,1706.9L650.6,1710.3L649.8,1714.2L649.0,1718.6L648.3,1722.6L647.6,1727.0L647.0,1731.5L646.3,1735.6L645.3,1740.5L644.2,1744.9L642.6,1749.2L640.2,1753.5L637.1,1757.6L633.7,1760.9L629.3,1763.9L624.4,1765.8L619.7,1767.9L615.4,1768.0L610.5,1768.1L605.9,1768.0L601.1,1768.0L596.3,1768.1L591.9,1768.2L587.7,1768.3L583.4,1768.5L579.1,1768.6L575.0,1768.9L571.1,1769.1L567.6,1769.4L563.0,1769.8L559.0,1770.2L555.3,1770.7L551.5,1771.2L547.4,1771.9L543.2,1772.7L539.1,1773.6L535.0,1774.4L530.8,1775.4L526.6,1776.4L522.4,1777.4L518.2,1778.3L514.3,1779.0L510.6,1779.8L506.4,1780.4L501.0,1781.0L497.6,1781.3L493.9,1781.7L489.9,1782.0L485.6,1782.4L481.1,1782.7L476.4,1782.9L471.6,1783.1L466.8,1783.2L462.7,1783.3L458.4,1783.2L453.9,1783.1L449.3,1782.9L444.7,1782.7L440.2,1782.5L436.0,1782.2L432.0,1782.0L428.5,1781.8L425.4,1781.6L418.8,1781.4L415.3,1781.3L411.3,1781.0L407.1,1780.7L402.4,1780.3L397.7,1779.8L393.2,1779.2L389.0,1778.6L385.0,1777.9L381.2,1777.1L377.5,1776.2L372.7,1774.7L368.2,1773.1L364.4,1771.2L361.4,1769.1L359.7,1766.8L359.9,1764.3L360.0,1760.4Z" fill="none" stroke="#0a22d6" stroke-width="1.0" stroke-linejoin="round" stroke-linecap="round"/>
<path d="M538.2,1761.3L533.6,1760.1L529.7,1758.7L526.1,1757.1L521.2,1754.0L517.0,1750.3L513.6,1746.5L511.1,1741.9L510.0,1737.9L509.4,1733.4L508.7,1728.4L508.1,1724.5L507.4,1720.3L506.7,1716.0L506.1,1711.9L505.6,1707.8L505.1,1703.8L504.6,1699.7L504.1,1695.7L503.6,1691.6L503.0,1687.5L502.4,1683.4L501.9,1679.2L501.4,1675.0L501.0,1670.8L500.7,1666.5L500.5,1662.1L500.7,1657.8L501.1,1653.5L501.5,1649.3L501.8,1644.9L501.9,1641.1L502.0,1636.8L502.0,1632.6L501.9,1628.5L501.7,1624.9L500.6,1620.1L499.1,1616.2L497.8,1611.9L497.1,1608.1L496.5,1604.0L496.0,1599.8L495.7,1595.7L495.5,1591.4L495.5,1587.0L495.7,1582.7L496.0,1578.5L496.6,1573.5L497.5,1568.9L498.8,1564.2L500.3,1559.2L502.2,1553.9L504.7,1549.0L508.2,1544.4L512.2,1540.4L516.0,1537.0L520.5,1533.9L525.2,1532.0L531.2,1531.0L537.1,1531.2L541.9,1532.6L546.8,1535.6L550.6,1539.1L554.6,1543.2L558.3,1547.2L561.4,1550.8L564.1,1554.2L566.9,1557.0L571.3,1560.2L575.6,1563.3L579.4,1566.9L584.2,1571.6L587.0,1574.0L590.3,1576.9L593.8,1580.0L597.3,1583.0L600.6,1585.8L603.7,1588.3L606.9,1590.7L610.2,1593.0L613.4,1595.2L616.8,1597.5L621.0,1600.2L625.3,1602.8L629.6,1605.3L633.9,1607.8L638.3,1610.4L642.6,1612.9L646.9,1615.4L651.1,1617.8L655.6,1620.5L660.2,1623.3L664.4,1625.4L667.4,1627.0L670.0,1626.8L672.3,1628.3L675.4,1630.9L679.0,1633.5L682.8,1636.3L686.4,1639.0L690.0,1641.8L693.7,1644.8L697.4,1647.8L700.8,1650.6L703.9,1653.2L707.6,1656.5L710.6,1659.1L714.0,1661.3L717.3,1662.8L720.9,1664.4L724.7,1665.8L728.5,1667.2L732.5,1668.3L736.7,1669.3L740.9,1670.5L744.9,1671.8L749.8,1673.9L754.4,1676.4L758.5,1678.9L763.6,1683.2L767.2,1687.7L769.9,1696.0L768.9,1700.7L766.2,1705.0L762.9,1709.1L759.1,1713.5L755.1,1718.6L751.1,1723.8L748.5,1729.0L746.7,1734.1L745.2,1739.4L744.7,1744.2L747.6,1750.6L747.5,1750.7L745.0,1750.0L741.8,1749.9L737.9,1749.7L733.5,1749.6L728.9,1749.4L724.5,1749.4L720.7,1749.4L715.8,1749.5L711.6,1749.7L707.5,1749.9L703.2,1750.4L698.8,1751.0L694.3,1751.7L690.0,1752.5L685.7,1753.4L681.4,1754.3L677.2,1755.2L673.2,1756.1L669.1,1757.0L665.1,1757.8L661.1,1758.6L657.1,1759.3L653.1,1760.0L649.0,1760.6L644.9,1761.1L640.7,1761.6L636.5,1762.0L632.0,1762.4L627.2,1762.6L622.8,1762.9L619.5,1763.1L616.7,1763.3L613.9,1763.5L610.4,1763.7L606.2,1763.9L601.7,1764.1L597.1,1764.3L592.4,1764.5L588.1,1764.6L584.2,1764.6L579.5,1764.6L575.1,1764.6L570.8,1764.5L566.6,1764.3L562.5,1764.0L558.5,1763.6L553.8,1763.1L549.4,1762.5L545.2,1761.8L541.3,1761.1Z" fill="none" stroke="#f40d0d" stroke-width="1.4" stroke-linejoin="round" stroke-linecap="round"/>
<path d="M539.0,1760.9L534.2,1759.6L530.3,1758.2L526.7,1756.6L521.8,1753.6L517.8,1750.1L514.6,1746.5L512.3,1742.0L511.4,1738.2L511.0,1733.9L510.6,1729.1L510.2,1725.3L509.7,1721.1L509.2,1716.9L508.7,1712.6L508.2,1708.4L507.6,1704.2L507.0,1699.9L506.3,1695.6L505.6,1691.3L504.7,1687.0L503.9,1682.7L503.3,1678.4L502.7,1674.2L502.3,1670.0L502.1,1665.8L502.2,1661.6L502.6,1657.5L503.2,1653.6L503.9,1649.6L504.4,1645.3L504.6,1641.6L504.6,1637.5L504.6,1633.4L504.3,1629.4L503.8,1625.7L502.5,1620.9L500.8,1616.8L499.3,1612.2L498.4,1608.2L497.8,1603.9L497.4,1599.5L497.1,1595.1L497.1,1590.7L497.4,1586.3L497.8,1582.0L498.4,1577.9L499.2,1573.2L500.1,1568.8L501.3,1564.4L502.7,1559.8L504.4,1555.1L506.5,1550.7L509.5,1546.7L513.1,1543.1L516.5,1540.1L520.5,1537.2L524.8,1535.6L530.6,1534.6L536.6,1534.6L541.6,1535.6L546.7,1538.1L550.7,1541.1L555.0,1544.7L558.8,1548.3L562.0,1551.8L564.8,1555.1L567.5,1558.0L571.7,1561.4L575.8,1564.7L579.4,1568.4L583.9,1573.2L586.6,1576.0L589.7,1579.1L593.1,1582.5L596.6,1585.7L600.1,1588.7L603.4,1591.3L606.8,1593.7L610.3,1596.0L613.8,1598.1L617.3,1600.2L621.6,1602.7L625.9,1605.1L630.2,1607.4L634.4,1609.7L638.5,1612.1L642.6,1614.5L646.6,1616.9L650.6,1619.4L654.9,1622.2L659.5,1625.1L663.7,1627.6L666.9,1629.5L669.7,1629.4L672.2,1631.2L675.6,1633.7L679.4,1636.4L683.4,1639.3L687.1,1642.0L690.7,1644.7L694.3,1647.6L697.8,1650.4L701.0,1653.0L703.8,1655.3L707.3,1658.4L710.1,1660.8L713.4,1663.0L716.6,1664.6L720.3,1666.1L724.2,1667.6L728.2,1669.1L732.4,1670.4L736.9,1671.6L741.3,1672.9L745.4,1674.4L750.5,1676.7L755.1,1679.2L759.1,1681.8L764.0,1685.7L767.4,1689.6L769.8,1697.1L768.7,1701.5L766.1,1705.7L763.0,1709.7L759.6,1713.9L756.1,1718.7L752.7,1723.7L750.5,1728.6L749.0,1733.5L747.8,1738.7L747.5,1743.4L750.2,1749.9L749.3,1750.2L745.7,1749.7L742.4,1749.8L738.3,1749.9L733.7,1749.9L728.9,1750.1L724.3,1750.2L720.2,1750.4L715.2,1750.6L710.9,1750.8L706.9,1751.1L702.9,1751.5L698.6,1751.9L694.5,1752.5L690.4,1753.0L686.3,1753.7L682.3,1754.3L678.2,1755.0L674.1,1755.8L670.0,1756.5L665.8,1757.3L661.6,1758.1L657.3,1759.0L653.1,1759.8L648.8,1760.6L644.5,1761.3L640.2,1762.1L636.0,1762.7L631.6,1763.2L626.9,1763.7L622.7,1764.0L619.7,1764.3L617.1,1764.5L614.5,1764.5L611.1,1764.6L606.9,1764.6L602.3,1764.5L597.5,1764.5L592.6,1764.4L588.0,1764.4L583.9,1764.3L579.0,1764.2L574.4,1764.1L570.1,1764.0L566.0,1764.0L562.0,1763.9L558.3,1763.7L553.9,1763.4L549.7,1763.0L545.7,1762.6L542.1,1762.1Z" fill="none" stroke="#f40d0d" stroke-width="1.8" stroke-linejoin="round" stroke-linecap="round"/>
<path d="M538.7,1761.5L534.0,1760.4L530.3,1759.2L527.0,1757.7L522.5,1754.6L518.9,1751.1L516.2,1747.3L514.4,1742.7L513.9,1738.7L513.6,1734.1L513.3,1729.1L512.8,1725.0L512.2,1720.7L511.5,1716.2L510.8,1711.9L510.0,1707.6L509.2,1703.4L508.4,1699.2L507.7,1695.1L506.9,1691.0L506.1,1686.9L505.5,1682.8L505.0,1678.8L504.8,1674.7L504.6,1670.7L504.6,1666.6L504.8,1662.5L505.2,1658.4L505.8,1654.4L506.4,1650.2L506.7,1645.7L506.6,1641.7L506.5,1637.4L506.2,1633.0L505.7,1628.8L505.1,1625.1L503.8,1620.1L502.1,1616.0L500.8,1611.5L500.2,1607.6L499.8,1603.4L499.6,1599.2L499.6,1595.0L499.8,1590.9L500.1,1586.7L500.4,1582.7L500.9,1578.8L501.4,1574.2L502.1,1570.0L503.1,1565.7L504.2,1561.1L505.6,1556.5L507.5,1552.2L510.3,1548.3L513.7,1544.8L517.0,1541.9L521.0,1539.1L525.2,1537.5L531.0,1536.5L537.1,1536.5L542.2,1537.5L547.4,1539.9L551.4,1542.7L555.5,1546.4L559.1,1550.1L562.1,1553.7L564.6,1557.3L567.1,1560.5L571.1,1564.1L575.2,1567.4L578.7,1571.1L583.3,1575.8L586.2,1578.4L589.5,1581.4L593.1,1584.5L596.9,1587.6L600.5,1590.4L604.0,1592.9L607.5,1595.2L610.9,1597.4L614.3,1599.5L617.6,1601.7L621.7,1604.3L625.8,1606.8L629.8,1609.3L633.8,1611.9L637.8,1614.5L641.9,1617.1L646.0,1619.8L650.2,1622.4L654.8,1625.2L659.6,1628.2L664.0,1630.8L667.4,1632.6L670.3,1632.4L672.9,1633.9L676.2,1636.0L679.9,1638.4L683.7,1641.0L687.2,1643.5L690.5,1646.1L693.9,1648.8L697.2,1651.6L700.3,1654.2L703.2,1656.6L706.7,1659.9L709.7,1662.6L713.2,1665.2L716.7,1667.2L720.6,1669.0L724.7,1670.8L728.8,1672.4L733.1,1673.8L737.5,1675.1L741.8,1676.3L745.7,1677.6L750.5,1679.6L754.9,1681.8L758.7,1684.0L763.4,1687.2L766.8,1690.3L769.2,1696.8L768.2,1700.8L766.2,1705.0L763.7,1709.0L760.8,1713.3L758.0,1718.2L755.4,1723.4L753.5,1728.5L752.1,1733.6L750.9,1738.9L750.5,1743.9L752.5,1750.7L750.6,1751.2L745.5,1750.9L742.0,1750.9L737.7,1750.9L733.0,1750.9L728.2,1750.8L723.7,1750.7L719.8,1750.7L715.1,1750.6L711.1,1750.7L707.3,1750.8L703.5,1751.0L699.4,1751.4L695.4,1752.0L691.2,1752.7L687.1,1753.4L682.8,1754.3L678.6,1755.2L674.2,1756.2L669.9,1757.2L665.6,1758.2L661.2,1759.1L657.0,1760.1L652.8,1760.9L648.6,1761.7L644.5,1762.4L640.5,1762.9L636.5,1763.4L632.2,1763.7L627.6,1763.9L623.5,1764.0L620.4,1764.1L617.6,1764.1L614.8,1764.1L611.1,1764.1L606.7,1764.1L601.9,1764.2L596.9,1764.3L592.0,1764.5L587.4,1764.6L583.3,1764.8L578.6,1764.9L574.3,1765.0L570.2,1765.1L566.3,1765.1L562.6,1765.0L559.0,1764.8L554.7,1764.4L550.4,1763.8L546.4,1763.2L542.6,1762.4Z" fill="none" stroke="#f40d0d" stroke-width="1.9" stroke-linejoin="round" stroke-linecap="round"/>
<path d="M538.7,1762.2L534.4,1760.9L531.1,1759.4L528.3,1757.7L524.2,1754.4L521.0,1750.6L518.6,1746.7L516.8,1742.0L516.2,1737.9L515.8,1733.4L515.2,1728.5L514.5,1724.6L513.7,1720.5L512.8,1716.4L512.1,1712.2L511.3,1708.2L510.7,1704.1L510.1,1700.0L509.6,1695.9L509.0,1691.8L508.5,1687.6L508.0,1683.4L507.7,1679.2L507.4,1674.9L507.2,1670.6L507.0,1666.3L507.0,1662.0L507.1,1657.9L507.5,1653.7L507.9,1649.5L508.0,1645.0L508.0,1641.0L507.8,1636.9L507.7,1632.7L507.4,1628.8L507.0,1625.3L505.9,1620.6L504.4,1616.6L503.3,1612.3L502.8,1608.4L502.5,1604.3L502.2,1600.0L502.0,1595.7L501.9,1591.4L502.0,1587.1L502.1,1582.8L502.3,1578.8L502.8,1574.1L503.4,1569.7L504.4,1565.4L505.6,1560.9L507.0,1556.6L509.0,1552.7L511.9,1549.3L515.3,1546.2L518.5,1543.8L522.3,1541.6L526.2,1540.4L531.6,1539.8L537.4,1539.9L542.4,1540.9L547.3,1543.0L551.0,1545.7L555.0,1549.0L558.5,1552.4L561.4,1555.7L564.0,1559.2L566.6,1562.3L570.8,1565.7L575.1,1568.8L578.9,1572.3L583.8,1576.8L586.7,1579.4L590.2,1582.5L593.8,1585.7L597.5,1589.0L600.9,1592.1L604.2,1594.8L607.4,1597.4L610.6,1599.9L613.8,1602.2L617.0,1604.6L621.0,1607.3L625.1,1609.9L629.3,1612.4L633.5,1614.9L637.8,1617.3L642.1,1619.8L646.4,1622.2L650.8,1624.6L655.4,1627.2L660.2,1630.0L664.6,1632.6L667.8,1634.3L670.5,1634.1L672.8,1635.5L675.9,1637.5L679.4,1640.1L683.0,1642.9L686.5,1645.6L689.9,1648.3L693.4,1651.2L696.9,1654.2L700.3,1656.9L703.4,1659.4L707.2,1662.7L710.3,1665.5L713.9,1668.1L717.3,1670.0L721.1,1671.8L725.0,1673.4L729.0,1674.8L733.0,1676.1L737.2,1677.1L741.3,1678.1L745.1,1679.3L749.9,1681.3L754.3,1683.4L758.2,1685.6L763.1,1688.4L766.7,1691.3L769.4,1697.2L768.7,1701.0L767.2,1705.5L765.0,1709.8L762.4,1714.2L759.9,1719.1L757.4,1724.3L755.5,1729.3L753.9,1734.3L752.6,1739.4L751.9,1744.1L753.4,1750.8L750.8,1751.2L744.9,1750.7L741.6,1750.6L737.5,1750.5L733.0,1750.4L728.4,1750.3L724.1,1750.3L720.4,1750.4L715.8,1750.6L711.8,1750.8L708.0,1751.2L704.0,1751.7L699.7,1752.3L695.4,1753.0L691.1,1753.8L686.8,1754.6L682.4,1755.4L678.1,1756.2L673.9,1757.1L669.7,1757.8L665.5,1758.6L661.5,1759.4L657.4,1760.1L653.4,1760.7L649.4,1761.3L645.4,1761.9L641.3,1762.4L637.2,1762.9L632.6,1763.3L627.8,1763.7L623.4,1764.0L620.1,1764.3L617.1,1764.6L614.2,1764.8L610.5,1765.0L606.1,1765.2L601.4,1765.4L596.7,1765.5L592.0,1765.6L587.6,1765.6L583.8,1765.6L579.2,1765.5L574.9,1765.4L570.8,1765.2L566.9,1765.0L563.0,1764.8L559.2,1764.4L554.7,1763.9L550.2,1763.4L546.0,1762.7L542.2,1762.1Z" fill="none" stroke="#f40d0d" stroke-width="1.7" stroke-linejoin="round" stroke-linecap="round"/>
<path d="M539.7,1761.7L535.5,1760.5L532.3,1759.1L529.6,1757.5L525.6,1754.5L522.4,1750.9L520.0,1747.1L518.2,1742.6L517.6,1738.6L517.1,1734.2L516.5,1729.4L515.9,1725.5L515.2,1721.3L514.6,1716.9L514.1,1712.6L513.6,1708.3L513.2,1704.0L512.7,1699.7L512.2,1695.4L511.6,1691.1L511.0,1686.9L510.3,1682.6L509.7,1678.4L509.2,1674.2L508.8,1670.0L508.4,1665.9L508.3,1661.9L508.5,1658.1L508.9,1654.2L509.5,1650.2L509.9,1645.8L510.1,1641.8L510.2,1637.7L510.2,1633.5L510.0,1629.4L509.6,1625.8L508.4,1620.9L506.8,1616.8L505.5,1612.2L504.8,1608.0L504.2,1603.7L503.8,1599.2L503.4,1594.9L503.3,1590.6L503.3,1586.4L503.6,1582.3L503.9,1578.5L504.6,1574.1L505.5,1570.1L506.6,1566.1L507.9,1562.0L509.4,1558.1L511.3,1554.7L513.9,1551.7L517.0,1548.9L519.7,1546.8L522.9,1544.7L526.3,1543.6L531.2,1542.8L536.9,1542.7L541.7,1543.3L546.6,1544.9L550.5,1547.1L554.6,1550.1L558.4,1553.3L561.5,1556.6L564.3,1560.1L567.2,1563.5L571.5,1567.2L575.8,1570.5L579.5,1574.2L584.2,1578.9L587.0,1581.8L590.2,1585.0L593.6,1588.4L597.0,1591.8L600.3,1594.9L603.5,1597.6L606.8,1600.1L610.1,1602.4L613.4,1604.6L616.8,1606.7L621.1,1609.3L625.5,1611.7L629.8,1614.0L634.2,1616.4L638.5,1618.8L642.7,1621.3L646.9,1623.8L651.0,1626.3L655.4,1629.1L660.0,1632.2L664.1,1635.2L667.2,1637.2L669.8,1637.1L672.2,1638.7L675.4,1640.5L679.0,1643.0L682.9,1645.7L686.6,1648.3L690.2,1650.8L693.9,1653.5L697.6,1656.2L701.0,1658.7L704.0,1660.9L707.6,1664.1L710.5,1666.8L713.9,1669.5L717.1,1671.6L720.7,1673.5L724.4,1675.3L728.3,1677.0L732.3,1678.4L736.6,1679.7L740.9,1681.0L745.0,1682.3L750.0,1684.4L754.6,1686.5L758.8,1688.6L763.8,1691.0L767.4,1693.1L770.0,1698.1L769.3,1701.5L767.8,1705.9L765.6,1709.9L763.1,1714.0L760.7,1718.8L758.6,1723.7L756.7,1728.6L755.2,1733.5L754.1,1738.6L753.5,1743.4L754.9,1750.4L751.9,1751.1L745.2,1750.9L742.1,1751.0L738.1,1751.1L733.7,1751.2L729.0,1751.3L724.6,1751.5L720.7,1751.6L715.8,1751.7L711.6,1751.9L707.6,1752.1L703.5,1752.3L699.2,1752.7L694.9,1753.2L690.8,1753.8L686.6,1754.4L682.5,1755.0L678.5,1755.8L674.5,1756.6L670.5,1757.4L666.4,1758.2L662.4,1759.2L658.3,1760.1L654.1,1761.0L649.8,1761.8L645.5,1762.6L641.2,1763.3L636.8,1764.0L632.1,1764.5L627.2,1764.9L622.8,1765.1L619.6,1765.3L616.8,1765.4L614.1,1765.4L610.6,1765.4L606.5,1765.3L602.0,1765.3L597.3,1765.2L592.7,1765.2L588.2,1765.2L584.2,1765.1L579.5,1765.1L574.9,1765.1L570.6,1765.1L566.4,1765.1L562.5,1765.1L558.6,1765.0L554.1,1764.7L549.8,1764.3L545.9,1763.8L542.3,1763.3Z" fill="none" stroke="#f40d0d" stroke-width="1.4" stroke-linejoin="round" stroke-linecap="round"/>
<path d="M539.0,1761.3L534.3,1760.2L530.4,1758.9L526.9,1757.4L522.2,1754.3L518.3,1750.8L515.3,1747.0L513.2,1742.4L512.4,1738.4L512.1,1733.8L511.8,1728.8L511.4,1724.7L510.9,1720.4L510.4,1716.0L509.8,1711.7L509.3,1707.5L508.6,1703.4L507.9,1699.3L507.2,1695.2L506.3,1691.2L505.5,1687.1L504.7,1683.1L504.1,1679.0L503.6,1674.9L503.3,1670.8L503.2,1666.7L503.3,1662.5L503.7,1658.2L504.4,1654.1L505.1,1649.8L505.6,1645.4L505.7,1641.4L505.7,1637.1L505.6,1632.7L505.2,1628.6L504.7,1624.8L503.3,1620.0L501.5,1615.9L500.0,1611.5L499.2,1607.7L498.7,1603.6L498.3,1599.4L498.2,1595.3L498.3,1591.2L498.6,1586.9L499.0,1582.7L499.6,1578.7L500.3,1573.9L501.2,1569.4L502.4,1564.9L503.7,1560.0L505.2,1554.9L507.2,1550.1L510.0,1545.6L513.5,1541.7L516.7,1538.3L520.7,1535.2L524.9,1533.3L530.6,1532.3L536.6,1532.4L541.7,1533.6L546.9,1536.5L550.9,1539.8L555.2,1543.8L559.0,1547.8L562.2,1551.5L564.9,1555.0L567.5,1558.0L571.6,1561.4L575.7,1564.6L579.2,1568.2L583.7,1573.0L586.4,1575.5L589.5,1578.3L593.0,1581.4L596.6,1584.4L600.1,1587.1L603.5,1589.5L607.0,1591.8L610.5,1594.0L614.0,1596.1L617.5,1598.3L621.8,1601.0L626.0,1603.5L630.2,1606.1L634.3,1608.7L638.3,1611.3L642.3,1614.0L646.4,1616.6L650.4,1619.1L654.8,1621.9L659.4,1624.8L663.7,1627.1L666.9,1628.8L669.8,1628.5L672.4,1630.1L675.8,1632.5L679.7,1635.0L683.6,1637.6L687.2,1640.2L690.7,1642.8L694.3,1645.7L697.7,1648.5L700.8,1651.3L703.6,1653.8L707.1,1657.1L709.8,1659.7L713.2,1662.1L716.5,1663.9L720.2,1665.5L724.2,1667.2L728.3,1668.7L732.6,1670.0L737.1,1671.1L741.5,1672.3L745.6,1673.6L750.6,1675.7L755.2,1678.0L759.1,1680.4L763.9,1684.3L767.3,1688.4L769.6,1696.2L768.5,1700.6L766.2,1704.8L763.4,1708.8L760.2,1713.2L757.0,1718.2L754.0,1723.4L752.0,1728.6L750.6,1733.8L749.6,1739.2L749.2,1744.1L751.6,1750.7L750.2,1751.0L745.8,1750.4L742.4,1750.4L738.2,1750.3L733.5,1750.2L728.7,1750.1L724.0,1750.0L720.0,1749.9L715.1,1749.9L710.9,1749.9L707.0,1750.1L703.0,1750.4L698.9,1750.9L694.8,1751.5L690.7,1752.3L686.7,1753.1L682.6,1754.0L678.5,1755.0L674.4,1756.0L670.2,1756.9L665.9,1757.9L661.6,1758.8L657.3,1759.7L653.0,1760.5L648.7,1761.1L644.4,1761.7L640.2,1762.2L636.1,1762.6L631.7,1762.9L627.1,1763.1L623.0,1763.2L620.0,1763.3L617.4,1763.4L614.7,1763.5L611.2,1763.5L607.0,1763.7L602.3,1763.8L597.4,1764.0L592.5,1764.2L587.8,1764.4L583.7,1764.5L578.8,1764.7L574.3,1764.7L570.0,1764.8L566.0,1764.7L562.1,1764.5L558.5,1764.2L554.1,1763.8L550.0,1763.1L546.1,1762.4L542.4,1761.6Z" fill="none" stroke="#f40d0d" stroke-width="1.2" stroke-linejoin="round" stroke-linecap="round"/>
<path d="M538.7,1762.2L534.1,1760.8L530.5,1759.3L527.4,1757.5L523.2,1754.3L519.8,1750.5L517.3,1746.7L515.6,1742.0L515.0,1738.0L514.8,1733.5L514.4,1728.7L513.8,1724.9L513.1,1720.8L512.3,1716.6L511.6,1712.5L510.8,1708.4L510.0,1704.3L509.2,1700.2L508.5,1696.0L507.8,1691.8L507.1,1687.5L506.6,1683.2L506.2,1678.9L506.0,1674.6L505.8,1670.3L505.8,1666.0L506.0,1661.8L506.3,1657.7L506.9,1653.7L507.3,1649.5L507.5,1645.1L507.5,1641.2L507.2,1637.1L506.9,1633.0L506.5,1629.0L506.0,1625.6L504.7,1620.9L503.1,1616.9L501.8,1612.5L501.3,1608.5L501.0,1604.3L500.9,1599.9L500.8,1595.6L500.9,1591.2L501.2,1586.8L501.5,1582.6L501.8,1578.6L502.3,1574.0L502.9,1569.7L503.8,1565.5L504.9,1561.2L506.2,1557.0L508.1,1553.4L510.9,1550.2L514.3,1547.4L517.6,1545.2L521.4,1543.1L525.6,1542.0L531.2,1541.4L537.3,1541.5L542.4,1542.3L547.5,1544.3L551.4,1546.7L555.4,1549.9L559.0,1553.1L561.9,1556.3L564.4,1559.8L566.9,1562.9L570.9,1566.3L575.0,1569.5L578.6,1573.0L583.4,1577.6L586.3,1580.3L589.7,1583.4L593.4,1586.8L597.1,1590.2L600.8,1593.3L604.2,1596.1L607.6,1598.7L611.0,1601.2L614.3,1603.6L617.5,1605.9L621.5,1608.6L625.5,1611.1L629.5,1613.5L633.6,1615.9L637.7,1618.3L641.8,1620.7L646.0,1623.1L650.3,1625.4L654.9,1628.1L659.8,1630.9L664.3,1633.7L667.6,1635.5L670.5,1635.3L673.0,1636.8L676.3,1638.7L679.9,1641.3L683.5,1644.1L687.0,1646.9L690.2,1649.6L693.6,1652.5L697.0,1655.4L700.2,1658.1L703.1,1660.4L706.8,1663.7L709.8,1666.4L713.4,1669.1L716.9,1671.0L720.8,1672.8L724.9,1674.4L729.0,1675.8L733.2,1677.1L737.5,1678.2L741.7,1679.3L745.6,1680.5L750.3,1682.5L754.7,1684.7L758.5,1686.8L763.2,1689.5L766.6,1692.1L769.1,1697.6L768.3,1701.3L766.5,1705.8L764.2,1710.0L761.5,1714.4L758.9,1719.3L756.4,1724.3L754.6,1729.2L753.1,1734.1L752.0,1739.2L751.4,1743.9L753.1,1750.6L750.8,1751.1L745.3,1750.7L741.8,1750.6L737.6,1750.5L732.9,1750.5L728.2,1750.5L723.7,1750.6L719.9,1750.8L715.3,1751.0L711.3,1751.3L707.6,1751.6L703.8,1752.1L699.7,1752.7L695.5,1753.3L691.4,1754.1L687.1,1754.8L682.8,1755.5L678.5,1756.3L674.1,1757.0L669.8,1757.8L665.5,1758.5L661.2,1759.2L657.0,1760.0L652.9,1760.7L648.8,1761.3L644.8,1762.0L640.8,1762.6L636.8,1763.1L632.4,1763.6L627.8,1764.1L623.6,1764.4L620.4,1764.7L617.6,1765.0L614.7,1765.2L610.9,1765.4L606.5,1765.5L601.7,1765.6L596.7,1765.7L591.9,1765.7L587.3,1765.6L583.4,1765.6L578.7,1765.4L574.4,1765.3L570.4,1765.1L566.6,1764.9L562.8,1764.7L559.2,1764.4L554.8,1764.0L550.5,1763.5L546.4,1763.0L542.6,1762.4Z" fill="none" stroke="#f40d0d" stroke-width="1.2" stroke-linejoin="round" stroke-linecap="round"/>
<path d="M538.6,1760.9L534.1,1759.8L530.7,1758.6L527.6,1757.1L523.3,1754.1L519.7,1750.7L517.0,1747.1L515.0,1742.6L514.2,1738.7L513.6,1734.2L513.0,1729.4L512.3,1725.4L511.5,1721.1L510.7,1716.7L510.0,1712.3L509.4,1708.0L508.8,1703.7L508.3,1699.4L507.8,1695.1L507.3,1690.9L506.8,1686.7L506.3,1682.5L505.8,1678.4L505.5,1674.3L505.2,1670.2L504.9,1666.2L504.8,1662.1L504.9,1658.1L505.3,1654.2L505.7,1650.1L505.9,1645.8L505.9,1641.9L505.8,1637.7L505.7,1633.4L505.6,1629.3L505.3,1625.5L504.2,1620.5L502.7,1616.3L501.5,1611.8L501.0,1607.7L500.5,1603.4L500.2,1599.1L499.9,1594.8L499.8,1590.6L499.8,1586.3L499.9,1582.1L500.1,1578.3L500.6,1573.7L501.4,1569.4L502.4,1565.2L503.8,1560.6L505.4,1556.0L507.6,1551.7L510.7,1547.8L514.3,1544.2L517.8,1541.2L521.8,1538.3L525.9,1536.6L531.5,1535.6L537.3,1535.5L542.2,1536.4L547.1,1538.8L550.8,1541.7L554.7,1545.3L558.3,1548.9L561.3,1552.5L564.0,1556.0L566.7,1559.1L571.0,1562.7L575.3,1566.0L579.1,1569.8L584.0,1574.7L586.9,1577.4L590.3,1580.5L593.9,1583.8L597.4,1586.9L600.8,1589.8L604.0,1592.3L607.2,1594.6L610.4,1596.7L613.6,1598.8L616.8,1600.8L620.9,1603.3L625.1,1605.7L629.4,1608.1L633.7,1610.5L638.0,1613.0L642.3,1615.6L646.7,1618.2L651.0,1620.8L655.6,1623.7L660.3,1626.7L664.6,1629.3L667.7,1631.2L670.3,1631.2L672.6,1632.8L675.7,1635.1L679.2,1637.7L682.9,1640.4L686.4,1643.0L689.8,1645.5L693.5,1648.2L697.1,1650.9L700.5,1653.5L703.6,1655.8L707.4,1658.9L710.4,1661.5L714.0,1663.9L717.4,1665.6L721.1,1667.4L724.9,1669.1L728.8,1670.7L732.8,1672.1L736.9,1673.4L741.1,1674.7L744.9,1676.2L749.8,1678.4L754.3,1680.8L758.3,1683.1L763.3,1686.7L766.9,1690.2L769.6,1697.1L768.8,1701.2L766.4,1705.3L763.5,1709.3L760.2,1713.4L756.6,1718.3L753.1,1723.3L750.7,1728.3L748.9,1733.3L747.4,1738.6L746.8,1743.4L749.2,1750.2L748.4,1750.6L744.9,1750.3L741.6,1750.4L737.6,1750.5L733.2,1750.6L728.7,1750.7L724.3,1750.7L720.6,1750.8L715.9,1750.9L711.7,1750.9L707.8,1751.1L703.6,1751.3L699.2,1751.6L694.8,1752.1L690.4,1752.7L686.0,1753.3L681.7,1754.0L677.4,1754.8L673.2,1755.7L669.1,1756.6L665.1,1757.6L661.1,1758.5L657.1,1759.5L653.1,1760.4L649.1,1761.2L645.1,1762.0L641.0,1762.7L636.9,1763.3L632.3,1763.7L627.5,1764.0L623.1,1764.2L619.8,1764.3L616.8,1764.4L614.0,1764.3L610.3,1764.3L606.1,1764.2L601.5,1764.2L596.8,1764.2L592.2,1764.2L587.8,1764.2L584.0,1764.3L579.4,1764.3L575.1,1764.4L570.9,1764.5L566.8,1764.5L562.9,1764.5L558.9,1764.4L554.3,1764.1L549.9,1763.7L545.7,1763.1L541.8,1762.5Z" fill="none" stroke="#f40d0d" stroke-width="1.2" stroke-linejoin="round" stroke-linecap="round"/>
<path d="M539.7,1762.1L535.3,1760.9L532.0,1759.6L529.1,1757.9L524.9,1754.7L521.5,1751.0L518.9,1747.1L517.1,1742.3L516.4,1738.2L516.0,1733.6L515.5,1728.6L514.9,1724.6L514.4,1720.3L513.8,1716.0L513.4,1711.8L512.9,1707.7L512.4,1703.6L511.9,1699.6L511.3,1695.5L510.6,1691.5L509.9,1687.4L509.2,1683.3L508.5,1679.2L508.0,1675.1L507.5,1670.9L507.2,1666.7L507.2,1662.4L507.4,1658.3L508.0,1654.1L508.6,1649.8L509.1,1645.2L509.3,1641.2L509.4,1636.9L509.4,1632.6L509.2,1628.5L508.8,1624.9L507.5,1620.2L505.8,1616.2L504.4,1611.8L503.6,1608.0L503.0,1603.9L502.5,1599.7L502.2,1595.6L502.1,1591.4L502.3,1587.2L502.6,1583.0L503.1,1579.1L503.8,1574.4L504.7,1570.0L505.9,1565.6L507.2,1561.0L508.7,1556.5L510.6,1552.3L513.2,1548.6L516.3,1545.3L519.1,1542.6L522.4,1540.1L525.9,1538.7L531.0,1538.0L536.7,1538.1L541.6,1539.1L546.6,1541.4L550.5,1544.3L554.7,1547.9L558.5,1551.5L561.7,1554.9L564.6,1558.5L567.4,1561.6L571.7,1565.1L575.9,1568.3L579.5,1571.8L584.2,1576.4L586.9,1578.9L590.0,1581.8L593.4,1585.0L596.8,1588.1L600.2,1591.0L603.4,1593.6L606.7,1596.0L610.1,1598.4L613.6,1600.7L617.0,1603.0L621.4,1605.8L625.7,1608.4L630.0,1611.0L634.3,1613.5L638.5,1616.1L642.7,1618.7L646.8,1621.2L650.9,1623.7L655.2,1626.4L659.8,1629.3L663.9,1631.8L667.0,1633.5L669.7,1633.2L672.1,1634.6L675.4,1636.5L679.2,1639.0L683.1,1641.7L686.8,1644.3L690.4,1646.9L694.1,1649.8L697.7,1652.7L701.1,1655.5L704.0,1658.0L707.6,1661.3L710.4,1664.2L713.7,1666.8L716.9,1668.8L720.4,1670.7L724.3,1672.3L728.2,1673.9L732.3,1675.2L736.7,1676.2L741.0,1677.3L745.1,1678.5L750.2,1680.4L754.9,1682.5L759.0,1684.6L763.9,1687.6L767.5,1690.5L770.0,1696.7L769.2,1700.7L767.5,1705.1L765.1,1709.2L762.4,1713.6L759.8,1718.7L757.5,1723.9L755.6,1729.0L754.2,1734.1L753.1,1739.4L752.7,1744.3L754.3,1751.0L751.6,1751.5L745.5,1751.0L742.3,1750.9L738.3,1750.8L733.8,1750.6L729.0,1750.5L724.5,1750.4L720.5,1750.3L715.6,1750.4L711.3,1750.5L707.3,1750.7L703.2,1751.1L699.0,1751.7L694.8,1752.4L690.7,1753.2L686.6,1754.0L682.6,1754.9L678.6,1755.9L674.6,1756.9L670.5,1757.8L666.5,1758.7L662.3,1759.5L658.1,1760.3L653.9,1761.0L649.6,1761.6L645.2,1762.2L640.9,1762.6L636.5,1763.0L631.9,1763.3L627.1,1763.6L622.8,1763.7L619.6,1763.9L616.9,1764.1L614.3,1764.2L610.8,1764.4L606.7,1764.6L602.2,1764.8L597.5,1765.0L592.7,1765.2L588.2,1765.3L584.2,1765.4L579.3,1765.5L574.7,1765.5L570.4,1765.4L566.2,1765.3L562.3,1765.0L558.4,1764.7L554.0,1764.2L549.8,1763.5L545.9,1762.8L542.4,1762.1Z" fill="none" stroke="#f40d0d" stroke-width="1.2" stroke-linejoin="round" stroke-linecap="round"/>
<path d="M737.0,1751.0 L761.7,1752.1" stroke="#f40d0d" stroke-width="1.6" fill="none"/>
<path d="M753.7,1750.8C752.3,1750.8 750.9,1750.7 745.3,1750.6C739.7,1750.6 727.2,1750.5 720.3,1750.6C713.3,1750.8 709.1,1750.9 703.5,1751.5C698.0,1752.0 692.4,1753.0 686.8,1754.0C681.3,1755.0 675.7,1756.2 670.1,1757.3C664.6,1758.4 659.0,1759.7 653.4,1760.7C647.8,1761.6 642.3,1762.6 636.7,1763.2C631.1,1763.8 623.2,1764.1 620.0,1764.3C616.8,1764.6 623.2,1764.4 617.2,1764.5C611.2,1764.6 593.5,1765.0 583.8,1765.0C574.0,1765.0 566.2,1765.1 558.7,1764.5C551.2,1764.0 544.0,1762.8 538.7,1761.7C533.4,1760.5 528.9,1758.2 527.0,1757.5" fill="none" stroke="#f40d0d" stroke-width="4.2" stroke-linejoin="round" stroke-linecap="round"/>
<path d="M626.7,1761.3C625.6,1762.1 621.6,1764.8 620.0,1765.8C618.4,1766.9 621.9,1767.4 617.2,1767.8C612.6,1768.3 600.5,1768.1 592.1,1768.4C583.8,1768.6 574.0,1768.8 567.1,1769.2C560.1,1769.6 555.9,1770.0 550.4,1770.9C544.8,1771.7 539.2,1772.9 533.7,1774.2C528.1,1775.5 522.5,1777.2 517.0,1778.4C511.4,1779.5 503.0,1780.7 500.3,1781.2" fill="none" stroke="#0a22d6" stroke-width="3.8" stroke-linejoin="round" stroke-linecap="round"/>
<path d="M178.7,1783.2L180.3,1780.6L184.3,1777.4L188.4,1774.0L191.9,1770.4L195.4,1766.5L198.5,1762.3L200.9,1758.0L202.8,1753.5L204.3,1749.0L205.3,1744.6L205.9,1740.2L206.0,1735.6L205.6,1730.7L204.8,1725.5L203.8,1720.6L202.5,1716.0L201.0,1711.7L199.3,1707.2L197.9,1703.6L196.4,1699.8L194.9,1696.0L193.4,1692.2L191.7,1687.1L190.1,1682.1L188.8,1677.1L187.9,1672.0L187.4,1667.0L187.1,1662.1L187.0,1657.4L187.1,1653.0L187.6,1648.7L188.4,1644.6L189.5,1640.7L190.9,1637.0L193.5,1632.0L196.8,1627.8L200.6,1625.1L205.1,1623.3L210.2,1622.3L216.8,1622.0L220.4,1622.0L224.3,1622.1L228.7,1622.3L233.4,1622.6L238.6,1622.8L242.4,1623.0L246.5,1623.3L250.7,1623.5L255.1,1623.8L259.8,1624.1L264.9,1624.3L270.3,1624.5L274.0,1624.6L278.1,1624.6L282.3,1624.7L286.8,1624.7L291.3,1624.7L295.9,1624.7L300.4,1624.7L304.9,1624.8L309.2,1624.8L313.3,1624.9L317.1,1625.0L321.9,1625.2L326.4,1625.4L330.6,1625.6L334.6,1625.9L338.6,1626.1L342.5,1626.4L346.4,1626.7L350.5,1627.0L354.8,1627.3L359.3,1627.6L363.8,1627.9L368.3,1628.3L372.7,1628.6L376.8,1628.9L380.6,1629.2L383.9,1629.5L388.9,1629.9L392.5,1630.2L395.8,1630.6L400.0,1631.2L403.7,1631.7L407.7,1632.3L412.0,1633.1L416.4,1633.8L420.8,1634.6L425.1,1635.4L429.3,1636.2L433.6,1637.0L437.9,1637.9L442.1,1638.8L446.2,1639.6L450.1,1640.4L454.3,1641.2L458.0,1641.9L461.7,1642.6L465.6,1643.2L470.2,1643.7L474.0,1644.0L478.2,1644.3L482.6,1644.5L487.2,1644.7L491.7,1644.9L496.1,1645.2L500.3,1645.4L504.8,1645.6L509.3,1645.9L513.6,1646.2L517.8,1646.4L521.7,1646.7L525.3,1647.0L530.2,1647.6L534.4,1648.2L538.3,1648.8L542.0,1649.6L546.9,1650.6L551.5,1651.8L555.4,1652.9L559.7,1654.3L562.9,1655.7L566.8,1658.7L567.8,1662.1L567.8,1668.8L567.4,1673.4L562.9,1677.5L557.9,1682.1L553.7,1687.1L552.5,1690.5L551.3,1694.8L550.0,1699.4L548.7,1703.9L547.5,1708.0L546.2,1712.2L544.9,1716.4L543.7,1720.6L542.5,1724.7L541.4,1728.9L540.2,1733.1L538.7,1737.3L536.8,1741.6L534.6,1745.9L532.4,1750.2L530.3,1754.0L527.9,1758.4L525.6,1762.2L523.6,1765.7L521.2,1770.2L519.5,1774.0L517.8,1779.9L514.9,1780.5L510.9,1781.0L506.3,1781.4L501.4,1781.8L496.4,1782.1L491.9,1782.4L487.7,1782.7L483.5,1782.9L479.3,1783.1L475.2,1783.3L471.0,1783.5L466.8,1783.7L462.7,1783.9L458.5,1784.2L454.3,1784.4L450.1,1784.6L445.9,1784.7L441.8,1784.9L437.7,1785.0L433.7,1785.1L429.7,1785.1L425.6,1785.2L421.3,1785.2L416.7,1785.2L413.0,1785.3L409.1,1785.3L405.0,1785.3L400.8,1785.3L396.6,1785.3L392.3,1785.3L388.1,1785.3L383.9,1785.4L379.8,1785.4L375.6,1785.5L371.4,1785.6L367.2,1785.7L363.1,1785.7L358.9,1785.8L354.7,1785.9L350.5,1786.1L346.3,1786.2L342.0,1786.4L337.6,1786.5L333.3,1786.7L329.0,1786.9L324.9,1787.1L320.9,1787.2L317.1,1787.4L312.4,1787.6L308.1,1787.8L304.0,1788.0L300.1,1788.1L296.1,1788.3L292.0,1788.4L287.9,1788.5L284.0,1788.6L280.0,1788.6L275.9,1788.6L271.6,1788.7L267.0,1788.7L263.1,1788.8L259.0,1788.8L254.7,1788.9L250.3,1788.9L245.8,1788.9L241.5,1789.0L237.4,1789.0L233.5,1789.1L228.8,1789.1L224.3,1789.2L220.0,1789.3L215.9,1789.4L212.1,1789.4L208.5,1789.4L203.6,1789.3L199.4,1789.2L195.5,1788.8L191.8,1788.2L186.3,1787.0L181.3,1785.3Z" fill="none" stroke="#000" stroke-width="3.7" stroke-linejoin="round" stroke-linecap="round"/>
<path d="M517.8,1780.7L538.7,1781.0" fill="none" stroke="#000" stroke-width="3.0" stroke-linejoin="round" stroke-linecap="round"/>
<path d="M185.5,1783.2L185.6,1780.6L188.3,1777.4L192.2,1774.0L196.1,1770.4L200.2,1766.5L203.7,1762.3L206.7,1758.0L209.1,1753.5L210.9,1749.0L212.1,1744.6L212.8,1740.2L213.0,1735.6L212.6,1730.7L211.7,1725.5L210.5,1720.6L209.0,1716.0L207.4,1711.7L205.6,1707.2L204.1,1703.6L202.6,1699.8L201.1,1696.0L199.8,1692.2L198.1,1687.1L196.7,1682.1L195.5,1677.1L194.8,1672.0L194.3,1667.0L194.1,1662.1L194.0,1657.4L194.1,1653.0L194.5,1648.7L195.1,1644.6L195.9,1640.7L196.8,1637.0L198.6,1632.0L200.7,1627.8L202.9,1625.1L206.1,1623.3L210.5,1622.3L216.9,1622.0L220.4,1622.0L224.3,1622.1L228.6,1622.3L233.4,1622.6L238.5,1622.8L242.4,1623.0L246.4,1623.3L250.6,1623.5L255.1,1623.8L259.8,1624.1L264.9,1624.3L270.3,1624.5L274.0,1624.6L278.1,1624.6L282.3,1624.7L286.8,1624.7L291.3,1624.7L295.9,1624.7L300.4,1624.7L304.9,1624.8L309.2,1624.8L313.3,1624.9L317.1,1625.0L321.9,1625.2L326.3,1625.4L330.6,1625.6L334.6,1625.9L338.5,1626.1L342.4,1626.4L346.4,1626.7L350.4,1627.0L354.7,1627.3L359.2,1627.6L363.7,1627.9L368.2,1628.3L372.6,1628.6L376.7,1628.9L380.5,1629.2L383.8,1629.5L388.9,1629.9L392.4,1630.2L395.6,1630.6L399.8,1631.2L403.5,1631.7L407.5,1632.3L411.7,1633.1L416.1,1633.8L420.5,1634.6L424.8,1635.4L429.0,1636.2L433.3,1637.0L437.6,1637.9L441.8,1638.8L445.9,1639.6L449.8,1640.4L454.0,1641.2L457.8,1641.9L461.5,1642.6L465.4,1643.2L470.1,1643.7L473.9,1644.0L478.1,1644.3L482.6,1644.5L487.2,1644.7L491.7,1644.9L496.1,1645.2L500.2,1645.4L504.8,1645.6L509.2,1645.9L513.6,1646.2L517.7,1646.4L521.6,1646.7L525.2,1647.0L530.0,1647.6L534.2,1648.2L538.0,1648.8L541.7,1649.6L546.6,1650.6L551.0,1651.8L554.8,1652.9L558.8,1654.3L561.2,1655.7L563.5,1658.7L563.9,1662.1L563.9,1668.8L564.1,1673.4L560.1,1677.5L555.4,1682.1L550.7,1687.1L549.1,1690.5L547.5,1694.8L546.2,1699.4L545.0,1703.9L543.7,1708.0L542.5,1712.2L541.2,1716.4L539.9,1720.6L538.8,1724.7L537.7,1728.9L536.5,1733.1L535.1,1737.3L533.3,1741.6L531.3,1745.9L529.1,1750.2L527.1,1754.0L524.7,1758.4L522.4,1762.2L520.4,1765.7L517.8,1770.2L516.3,1774.0L515.4,1779.9L513.6,1780.5L510.8,1781.0L506.2,1781.4L501.3,1781.8L496.4,1782.1L491.8,1782.4L487.6,1782.7L483.4,1782.9L479.3,1783.1L475.1,1783.3L471.0,1783.5L466.8,1783.7L462.6,1783.9L458.4,1784.2L454.3,1784.4L450.1,1784.6L445.9,1784.7L441.8,1784.9L437.7,1785.0L433.7,1785.1L429.7,1785.1L425.6,1785.2L421.3,1785.2L416.7,1785.2L413.0,1785.3L409.1,1785.3L405.0,1785.3L400.8,1785.3L396.6,1785.3L392.3,1785.3L388.1,1785.3L383.9,1785.4L379.8,1785.4L375.6,1785.5L371.4,1785.6L367.2,1785.7L363.1,1785.7L358.9,1785.8L354.7,1785.9L350.5,1786.1L346.2,1786.2L341.9,1786.4L337.6,1786.5L333.2,1786.7L329.0,1786.9L324.8,1787.1L320.8,1787.2L317.1,1787.4L312.4,1787.6L308.1,1787.8L304.0,1788.0L300.0,1788.1L296.1,1788.3L292.0,1788.4L287.9,1788.5L284.0,1788.6L280.0,1788.6L275.9,1788.6L271.6,1788.7L267.0,1788.7L263.1,1788.8L259.0,1788.8L254.7,1788.9L250.2,1788.9L245.8,1788.9L241.5,1789.0L237.4,1789.0L233.5,1789.1L228.8,1789.1L224.3,1789.2L220.0,1789.3L215.9,1789.4L212.1,1789.4L208.5,1789.4L203.7,1789.3L199.5,1789.2L195.8,1788.8L192.3,1788.2L187.4,1787.0L184.0,1785.3Z" fill="none" stroke="#000" stroke-width="1.1" stroke-linejoin="round" stroke-linecap="round"/>
<path d="M187.9,1783.2L187.5,1780.6L189.7,1777.4L193.6,1774.0L197.6,1770.4L201.9,1766.5L205.6,1762.3L208.8,1758.0L211.3,1753.5L213.2,1749.0L214.6,1744.6L215.3,1740.2L215.5,1735.6L215.0,1730.7L214.1,1725.5L212.9,1720.6L211.4,1716.0L209.7,1711.7L207.8,1707.2L206.4,1703.6L204.9,1699.8L203.4,1696.0L202.1,1692.2L200.5,1687.1L199.0,1682.1L197.9,1677.1L197.2,1672.0L196.8,1667.0L196.6,1662.1L196.5,1657.4L196.6,1653.0L196.9,1648.7L197.5,1644.6L198.2,1640.7L198.9,1637.0L200.4,1632.0L202.1,1627.8L203.8,1625.1L206.4,1623.3L210.6,1622.3L216.9,1622.0L220.4,1622.0L224.3,1622.1L228.6,1622.3L233.4,1622.6L238.5,1622.8L242.4,1623.0L246.4,1623.3L250.6,1623.5L255.0,1623.8L259.8,1624.1L264.8,1624.3L270.3,1624.5L274.0,1624.6L278.1,1624.6L282.3,1624.7L286.8,1624.7L291.3,1624.7L295.9,1624.7L300.4,1624.7L304.9,1624.8L309.2,1624.8L313.3,1624.9L317.1,1625.0L321.9,1625.2L326.3,1625.4L330.5,1625.6L334.5,1625.9L338.5,1626.1L342.4,1626.4L346.3,1626.7L350.4,1627.0L354.7,1627.3L359.2,1627.6L363.7,1627.9L368.2,1628.3L372.5,1628.6L376.7,1628.9L380.4,1629.2L383.8,1629.5L388.8,1629.9L392.3,1630.2L395.5,1630.6L399.7,1631.2L403.3,1631.7L407.3,1632.3L411.6,1633.1L416.0,1633.8L420.3,1634.6L424.6,1635.4L428.8,1636.2L433.1,1637.0L437.4,1637.9L441.6,1638.8L445.7,1639.6L449.6,1640.4L453.8,1641.2L457.6,1641.9L461.3,1642.6L465.3,1643.2L470.0,1643.7L473.9,1644.0L478.1,1644.3L482.6,1644.5L487.1,1644.7L491.7,1644.9L496.1,1645.2L500.2,1645.4L504.7,1645.6L509.2,1645.9L513.5,1646.2L517.7,1646.4L521.5,1646.7L525.1,1647.0L529.9,1647.6L534.1,1648.2L537.8,1648.8L541.5,1649.6L546.3,1650.6L550.7,1651.8L554.3,1652.9L558.0,1654.3L559.8,1655.7L561.1,1658.7L561.1,1662.1L561.0,1668.8L561.5,1673.4L558.1,1677.5L553.4,1682.1L548.5,1687.1L546.5,1690.5L544.7,1694.8L543.4,1699.4L542.1,1703.9L540.9,1708.0L539.7,1712.2L538.4,1716.4L537.1,1720.6L535.9,1724.7L534.9,1728.9L533.8,1733.1L532.5,1737.3L530.8,1741.6L528.8,1745.9L526.6,1750.2L524.7,1754.0L522.3,1758.4L520.0,1762.2L517.9,1765.7L515.2,1770.2L514.0,1774.0L513.6,1779.9L512.6,1780.5L510.7,1781.0L506.2,1781.4L501.3,1781.8L496.4,1782.1L491.8,1782.4L487.6,1782.7L483.4,1782.9L479.3,1783.1L475.1,1783.3L470.9,1783.5L466.8,1783.7L462.6,1783.9L458.4,1784.2L454.2,1784.4L450.1,1784.6L445.9,1784.7L441.7,1784.9L437.7,1785.0L433.7,1785.1L429.7,1785.1L425.6,1785.2L421.3,1785.2L416.7,1785.2L413.0,1785.3L409.1,1785.3L405.0,1785.3L400.8,1785.3L396.6,1785.3L392.3,1785.3L388.1,1785.3L383.9,1785.4L379.8,1785.4L375.6,1785.5L371.4,1785.6L367.2,1785.7L363.0,1785.7L358.9,1785.8L354.7,1785.9L350.5,1786.1L346.2,1786.2L341.9,1786.4L337.6,1786.5L333.2,1786.7L329.0,1786.9L324.8,1787.1L320.8,1787.2L317.0,1787.4L312.4,1787.6L308.1,1787.8L304.0,1788.0L300.0,1788.1L296.1,1788.3L292.0,1788.4L287.9,1788.5L284.0,1788.6L280.0,1788.6L275.9,1788.6L271.6,1788.7L267.0,1788.7L263.1,1788.8L259.0,1788.8L254.7,1788.9L250.2,1788.9L245.8,1788.9L241.5,1789.0L237.4,1789.0L233.5,1789.1L228.8,1789.1L224.2,1789.2L220.0,1789.3L215.9,1789.4L212.1,1789.4L208.5,1789.4L203.7,1789.3L199.5,1789.2L195.9,1788.8L192.5,1788.2L187.8,1787.0L185.0,1785.3Z" fill="none" stroke="#000" stroke-width="1.2" stroke-linejoin="round" stroke-linecap="round"/>
<path d="M195.2,1783.2L193.3,1780.6L193.9,1777.4L197.6,1774.0L202.2,1770.4L207.1,1766.5L211.3,1762.3L215.0,1758.0L218.0,1753.5L220.3,1749.0L221.9,1744.6L222.8,1740.2L223.0,1735.6L222.5,1730.7L221.4,1725.5L220.0,1720.6L218.4,1716.0L216.5,1711.7L214.6,1707.2L213.1,1703.6L211.6,1699.8L210.1,1696.0L208.9,1692.2L207.4,1687.1L206.1,1682.1L205.2,1677.1L204.6,1672.0L204.3,1667.0L204.1,1662.1L204.0,1657.4L204.1,1653.0L204.3,1648.7L204.7,1644.6L205.0,1640.7L205.2,1637.0L205.8,1632.0L206.3,1627.8L206.3,1625.1L207.4,1623.3L211.0,1622.3L217.0,1622.0L220.4,1622.0L224.3,1622.1L228.6,1622.3L233.3,1622.6L238.5,1622.8L242.3,1623.0L246.4,1623.3L250.6,1623.5L255.0,1623.8L259.8,1624.1L264.8,1624.3L270.3,1624.5L274.0,1624.6L278.1,1624.6L282.3,1624.7L286.8,1624.7L291.3,1624.7L295.9,1624.7L300.4,1624.7L304.9,1624.8L309.2,1624.8L313.3,1624.9L317.0,1625.0L321.8,1625.2L326.3,1625.4L330.5,1625.6L334.5,1625.9L338.4,1626.1L342.3,1626.4L346.3,1626.7L350.4,1627.0L354.7,1627.3L359.1,1627.6L363.6,1627.9L368.1,1628.3L372.5,1628.6L376.6,1628.9L380.4,1629.2L383.7,1629.5L388.7,1629.9L392.2,1630.2L395.4,1630.6L399.6,1631.2L403.2,1631.7L407.2,1632.3L411.4,1633.1L415.8,1633.8L420.2,1634.6L424.4,1635.4L428.6,1636.2L432.9,1637.0L437.2,1637.9L441.4,1638.8L445.5,1639.6L449.4,1640.4L453.6,1641.2L457.4,1641.9L461.2,1642.6L465.2,1643.2L469.9,1643.7L473.8,1644.0L478.1,1644.3L482.5,1644.5L487.1,1644.7L491.7,1644.9L496.0,1645.2L500.2,1645.4L504.7,1645.6L509.2,1645.9L513.5,1646.2L517.6,1646.4L521.5,1646.7L525.1,1647.0L529.8,1647.6L534.0,1648.2L537.7,1648.8L541.3,1649.6L546.0,1650.6L550.4,1651.8L554.0,1652.9L557.4,1654.3L558.8,1655.7L559.1,1658.7L558.7,1662.1L558.6,1668.8L559.4,1673.4L556.3,1677.5L551.9,1682.1L546.7,1687.1L544.4,1690.5L542.4,1694.8L541.1,1699.4L539.8,1703.9L538.6,1708.0L537.3,1712.2L536.1,1716.4L534.8,1720.6L533.6,1724.7L532.5,1728.9L531.5,1733.1L530.2,1737.3L528.6,1741.6L526.7,1745.9L524.6,1750.2L522.6,1754.0L520.3,1758.4L518.0,1762.2L515.9,1765.7L513.0,1770.2L512.0,1774.0L512.1,1779.9L511.8,1780.5L510.6,1781.0L506.1,1781.4L501.2,1781.8L496.3,1782.1L491.8,1782.4L487.6,1782.7L483.4,1782.9L479.2,1783.1L475.1,1783.3L470.9,1783.5L466.8,1783.7L462.6,1783.9L458.4,1784.2L454.2,1784.4L450.1,1784.6L445.9,1784.7L441.7,1784.9L437.7,1785.0L433.7,1785.1L429.7,1785.1L425.6,1785.2L421.3,1785.2L416.7,1785.2L413.0,1785.3L409.1,1785.3L405.0,1785.3L400.8,1785.3L396.6,1785.3L392.3,1785.3L388.1,1785.3L383.9,1785.4L379.8,1785.4L375.6,1785.5L371.4,1785.6L367.2,1785.7L363.0,1785.7L358.8,1785.8L354.7,1785.9L350.5,1786.1L346.2,1786.2L341.9,1786.4L337.5,1786.5L333.2,1786.7L328.9,1786.9L324.8,1787.1L320.8,1787.2L317.0,1787.4L312.4,1787.6L308.0,1787.8L304.0,1788.0L300.0,1788.1L296.1,1788.3L292.0,1788.4L287.9,1788.5L284.0,1788.6L280.0,1788.6L275.9,1788.6L271.6,1788.7L267.0,1788.7L263.1,1788.8L259.0,1788.8L254.7,1788.9L250.2,1788.9L245.8,1788.9L241.5,1789.0L237.4,1789.0L233.5,1789.1L228.8,1789.1L224.2,1789.2L220.0,1789.3L215.9,1789.4L212.1,1789.4L208.5,1789.4L203.7,1789.3L199.6,1789.2L196.2,1788.8L193.1,1788.2L189.0,1787.0L187.9,1785.3Z" fill="none" stroke="#000" stroke-width="1.5" stroke-linejoin="round" stroke-linecap="round"/>
<path d="M197.6,1783.2L195.2,1780.6L195.3,1777.4L199.0,1774.0L203.7,1770.4L208.8,1766.5L213.2,1762.3L217.1,1758.0L220.3,1753.5L222.7,1749.0L224.3,1744.6L225.3,1740.2L225.5,1735.6L225.0,1730.7L223.9,1725.5L222.4,1720.6L220.7,1716.0L218.8,1711.7L216.8,1707.2L215.3,1703.6L213.8,1699.8L212.4,1696.0L211.1,1692.2L209.7,1687.1L208.4,1682.1L207.6,1677.1L207.1,1672.0L206.8,1667.0L206.6,1662.1L206.5,1657.4L206.5,1653.0L206.7,1648.7L207.1,1644.6L207.3,1640.7L207.3,1637.0L207.6,1632.0L207.7,1627.8L207.1,1625.1L207.7,1623.3L211.1,1622.3L217.1,1622.0L220.4,1622.0L224.3,1622.1L228.6,1622.3L233.3,1622.6L238.5,1622.8L242.3,1623.0L246.3,1623.3L250.6,1623.5L255.0,1623.8L259.8,1624.1L264.8,1624.3L270.3,1624.5L274.0,1624.6L278.1,1624.6L282.3,1624.7L286.8,1624.7L291.3,1624.7L295.9,1624.7L300.4,1624.7L304.9,1624.8L309.2,1624.8L313.3,1624.9L317.0,1625.0L321.8,1625.2L326.3,1625.4L330.5,1625.6L334.5,1625.9L338.4,1626.1L342.3,1626.4L346.3,1626.7L350.4,1627.0L354.6,1627.3L359.1,1627.6L363.6,1627.9L368.1,1628.3L372.5,1628.6L376.6,1628.9L380.4,1629.2L383.7,1629.5L388.7,1629.9L392.2,1630.2L395.4,1630.6L399.6,1631.2L403.2,1631.7L407.1,1632.3L411.4,1633.1L415.8,1633.8L420.1,1634.6L424.4,1635.4L428.6,1636.2L432.8,1637.0L437.1,1637.9L441.4,1638.8L445.5,1639.6L449.4,1640.4L453.6,1641.2L457.4,1641.9L461.1,1642.6L465.2,1643.2L469.9,1643.7L473.8,1644.0L478.1,1644.3L482.5,1644.5L487.1,1644.7L491.7,1644.9L496.0,1645.2L500.2,1645.4L504.7,1645.6L509.2,1645.9L513.5,1646.2L517.6,1646.4L521.5,1646.7L525.0,1647.0L529.8,1647.6L533.9,1648.2L537.6,1648.8L541.2,1649.6L545.9,1650.6L550.3,1651.8L553.8,1652.9L557.2,1654.3L558.3,1655.7L558.3,1658.7L557.8,1662.1L557.6,1668.8L558.6,1673.4L555.6,1677.5L551.2,1682.1L545.9,1687.1L543.5,1690.5L541.5,1694.8L540.1,1699.4L538.9,1703.9L537.6,1708.0L536.4,1712.2L535.1,1716.4L533.8,1720.6L532.7,1724.7L531.6,1728.9L530.6,1733.1L529.3,1737.3L527.8,1741.6L525.8,1745.9L523.8,1750.2L521.8,1754.0L519.5,1758.4L517.2,1762.2L515.1,1765.7L512.1,1770.2L511.2,1774.0L511.5,1779.9L511.5,1780.5L510.6,1781.0L506.1,1781.4L501.2,1781.8L496.3,1782.1L491.8,1782.4L487.5,1782.7L483.4,1782.9L479.2,1783.1L475.1,1783.3L470.9,1783.5L466.7,1783.7L462.6,1783.9L458.4,1784.2L454.2,1784.4L450.1,1784.6L445.9,1784.7L441.7,1784.9L437.7,1785.0L433.7,1785.1L429.7,1785.1L425.6,1785.2L421.3,1785.2L416.7,1785.2L413.0,1785.3L409.1,1785.3L405.0,1785.3L400.8,1785.3L396.6,1785.3L392.3,1785.3L388.1,1785.3L383.9,1785.4L379.8,1785.4L375.6,1785.5L371.4,1785.6L367.2,1785.7L363.0,1785.7L358.8,1785.8L354.6,1785.9L350.5,1786.1L346.2,1786.2L341.9,1786.4L337.5,1786.5L333.2,1786.7L328.9,1786.9L324.8,1787.1L320.8,1787.2L317.0,1787.4L312.4,1787.6L308.0,1787.8L304.0,1788.0L300.0,1788.1L296.1,1788.3L292.0,1788.4L287.9,1788.5L284.0,1788.6L280.0,1788.6L275.9,1788.6L271.6,1788.7L267.0,1788.7L263.1,1788.8L259.0,1788.8L254.7,1788.9L250.2,1788.9L245.8,1788.9L241.5,1789.0L237.4,1789.0L233.5,1789.1L228.8,1789.1L224.2,1789.2L220.0,1789.3L215.9,1789.4L212.1,1789.4L208.5,1789.4L203.7,1789.3L199.6,1789.2L196.3,1788.8L193.3,1788.2L189.4,1787.0L188.9,1785.3Z" fill="none" stroke="#000" stroke-width="1.0" stroke-linejoin="round" stroke-linecap="round"/>
<path d="M545.5,1780.6 L552.7,1796.9 L555.1,1792.9 L584.1,1809.9 L589.9,1800.1 L560.9,1783.0 L563.3,1779.0Z" fill="#000" stroke="#000" stroke-width="2.2" stroke-linejoin="miter"/>
<path d="M627.0,1782.6 L634.0,1799.0 L636.4,1795.0 L664.6,1812.2 L670.6,1802.4 L642.4,1785.3 L644.8,1781.3Z" fill="#6cc24a" stroke="#000" stroke-width="2.2" stroke-linejoin="miter"/>
<path d="M653.0,1772.0 L660.2,1788.3 L662.6,1784.3 L691.5,1801.3 L697.3,1791.5 L668.4,1774.5 L670.8,1770.4Z" fill="#0a2ac8" stroke="#000" stroke-width="2.2" stroke-linejoin="miter"/>
<path d="M767.0,1758.4 L774.4,1774.7 L776.7,1770.6 L806.7,1787.9 L812.5,1778.1 L782.4,1760.7 L784.8,1756.6Z" fill="#ff0d0d" stroke="#000" stroke-width="2.2" stroke-linejoin="miter"/>
<rect x="693.7" y="1434.1" width="152.9" height="170.3" fill="#fafafa" stroke="#000" stroke-width="3"/>
</g>
<text transform="matrix(0.27326 0 0 0.29155 81.03 168.26)" font-size="100" font-weight="bold" stroke="#000" stroke-width="2.12">15000</text>
<text transform="matrix(0.27326 0 0 0.29155 81.03 292.06)" font-size="100" font-weight="bold" stroke="#000" stroke-width="2.12">10000</text>
<text transform="matrix(0.27272 0 0 0.29155 96.31 415.86)" font-size="100" font-weight="bold" stroke="#000" stroke-width="2.13">5000</text>
<text transform="matrix(0.26287 0 0 0.29155 142.36 539.66)" font-size="100" font-weight="bold" stroke="#000" stroke-width="2.16">0</text>
<text transform="matrix(0.28329 0 0 0.28188 203.80 570.88)" font-size="100" font-weight="bold" stroke="#000" stroke-width="1.59">Sham</text>
<text transform="matrix(0.27510 0 0 0.29814 356.35 570.76)" font-size="100" font-weight="bold" stroke="#000" stroke-width="2.44">25G</text>
<text transform="matrix(0.27510 0 0 0.29814 496.65 570.76)" font-size="100" font-weight="bold" stroke="#000" stroke-width="2.44">26G</text>
<text transform="matrix(0.27510 0 0 0.29814 635.35 570.76)" font-size="100" font-weight="bold" stroke="#000" stroke-width="2.44">27G</text>
<text transform="matrix(0.27352 0 0 0.29155 983.39 165.06)" font-size="100" font-weight="bold" stroke="#000" stroke-width="2.12">-15000</text>
<text transform="matrix(0.27352 0 0 0.29155 983.39 289.66)" font-size="100" font-weight="bold" stroke="#000" stroke-width="2.12">-10000</text>
<text transform="matrix(0.27308 0 0 0.29155 998.82 414.36)" font-size="100" font-weight="bold" stroke="#000" stroke-width="2.13">-5000</text>
<text transform="matrix(0.26287 0 0 0.29155 1053.96 538.96)" font-size="100" font-weight="bold" stroke="#000" stroke-width="2.16">0</text>
<text transform="matrix(0.28329 0 0 0.28188 1115.10 569.58)" font-size="100" font-weight="bold" stroke="#000" stroke-width="1.59">Sham</text>
<text transform="matrix(0.27510 0 0 0.29814 1267.35 569.46)" font-size="100" font-weight="bold" stroke="#000" stroke-width="2.44">25G</text>
<text transform="matrix(0.27510 0 0 0.29814 1407.15 569.46)" font-size="100" font-weight="bold" stroke="#000" stroke-width="2.44">26G</text>
<text transform="matrix(0.27510 0 0 0.29814 1546.95 569.46)" font-size="100" font-weight="bold" stroke="#000" stroke-width="2.44">27G</text>
<text transform="matrix(0.26981 0 0 0.29155 136.93 847.66)" font-size="100" font-weight="bold" stroke="#000" stroke-width="2.14">40</text>
<text transform="matrix(0.26976 0 0 0.29155 136.94 941.16)" font-size="100" font-weight="bold" stroke="#000" stroke-width="2.14">30</text>
<text transform="matrix(0.26970 0 0 0.29155 136.94 1034.56)" font-size="100" font-weight="bold" stroke="#000" stroke-width="2.14">20</text>
<text transform="matrix(0.26953 0 0 0.29155 136.96 1128.06)" font-size="100" font-weight="bold" stroke="#000" stroke-width="2.14">10</text>
<text transform="matrix(0.26287 0 0 0.29155 152.26 1221.46)" font-size="100" font-weight="bold" stroke="#000" stroke-width="2.16">0</text>
<text transform="matrix(0.28329 0 0 0.28188 213.20 1252.48)" font-size="100" font-weight="bold" stroke="#000" stroke-width="1.59">Sham</text>
<text transform="matrix(0.27510 0 0 0.29814 365.55 1252.36)" font-size="100" font-weight="bold" stroke="#000" stroke-width="2.44">25G</text>
<text transform="matrix(0.27510 0 0 0.29814 505.65 1252.36)" font-size="100" font-weight="bold" stroke="#000" stroke-width="2.44">26G</text>
<text transform="matrix(0.27510 0 0 0.29814 645.35 1252.36)" font-size="100" font-weight="bold" stroke="#000" stroke-width="2.44">27G</text>
<text transform="matrix(0.27167 0 0 0.29155 1021.42 856.46)" font-size="100" font-weight="bold" stroke="#000" stroke-width="2.13">100</text>
<text transform="matrix(0.26973 0 0 0.29155 1036.84 931.16)" font-size="100" font-weight="bold" stroke="#000" stroke-width="2.14">80</text>
<text transform="matrix(0.26970 0 0 0.29155 1036.84 1005.86)" font-size="100" font-weight="bold" stroke="#000" stroke-width="2.14">60</text>
<text transform="matrix(0.26981 0 0 0.29155 1036.83 1080.56)" font-size="100" font-weight="bold" stroke="#000" stroke-width="2.14">40</text>
<text transform="matrix(0.26970 0 0 0.29155 1036.84 1155.26)" font-size="100" font-weight="bold" stroke="#000" stroke-width="2.14">20</text>
<text transform="matrix(0.26287 0 0 0.29155 1052.16 1229.96)" font-size="100" font-weight="bold" stroke="#000" stroke-width="2.16">0</text>
<text transform="matrix(0.28329 0 0 0.28188 1113.40 1260.98)" font-size="100" font-weight="bold" stroke="#000" stroke-width="1.59">Sham</text>
<text transform="matrix(0.27510 0 0 0.29814 1265.85 1260.86)" font-size="100" font-weight="bold" stroke="#000" stroke-width="2.44">25G</text>
<text transform="matrix(0.27510 0 0 0.29814 1405.65 1260.86)" font-size="100" font-weight="bold" stroke="#000" stroke-width="2.44">26G</text>
<text transform="matrix(0.27510 0 0 0.29814 1545.35 1260.86)" font-size="100" font-weight="bold" stroke="#000" stroke-width="2.44">27G</text>
<text transform="matrix(0.52264 0 0 0.58000 53.18 79.77)" font-size="100" font-weight="bold" stroke="#000" stroke-width="2.00">a</text>
<text transform="matrix(0.56634 0 0 0.56327 972.77 41.89)" font-size="100" font-weight="bold" stroke="#000" stroke-width="1.95">b</text>
<text transform="matrix(0.57526 0 0 0.57273 42.05 742.28)" font-size="100" font-weight="bold" stroke="#000" stroke-width="1.92">c</text>
<text transform="matrix(0.58812 0 0 0.58912 950.80 759.66)" font-size="100" font-weight="bold" stroke="#000" stroke-width="1.87">d</text>
<text transform="matrix(0.57917 0 0 0.58182 35.83 1369.87)" font-size="100" font-weight="bold" stroke="#000" stroke-width="1.89">e</text>
<text transform="matrix(0.36471 0 0 0.34765 365.34 115.00)" font-size="100" font-weight="bold">dP/dt Max</text>
<text transform="matrix(0.36091 0 0 0.35034 1282.86 110.90)" font-size="100" font-weight="bold">dP/dt Min</text>
<text transform="matrix(0.38046 0 0 0.35652 401.61 793.45)" font-size="100" stroke="#000" stroke-width="4.07">LVEDP</text>
<text transform="matrix(0.34202 0 0 0.36761 1309.81 802.58)" font-size="100" stroke="#000" stroke-width="4.23">PRSW</text>
<text transform="matrix(0 -0.30374 0.31007 0 23.68 417.81)" font-size="100" font-weight="bold" stroke="#000" stroke-width="1.30">dP/dt Max</text>
<text transform="matrix(0 -0.30578 0.31277 0 61.28 433.43)" font-size="100" font-weight="bold" stroke="#000" stroke-width="1.29">(mmHg/sec)</text>
<text transform="matrix(0 -0.31000 0.31544 0 925.37 412.04)" font-size="100" font-weight="bold" stroke="#000" stroke-width="1.28">dP/dt Min</text>
<text transform="matrix(0 -0.30613 0.30957 0 963.14 430.23)" font-size="100" font-weight="bold" stroke="#000" stroke-width="1.30">(mmHg/sec)</text>
<text transform="matrix(0 -0.34023 0.30068 0 39.35 1138.17)" font-size="100" stroke="#000" stroke-width="3.43">Left Ventricular</text>
<text transform="matrix(0 -0.32983 0.29660 0 76.95 1191.99)" font-size="100" stroke="#000" stroke-width="3.51">End Diastolic Pressure</text>
<text transform="matrix(0 -0.32149 0.29840 0 114.18 1083.38)" font-size="100" stroke="#000" stroke-width="3.55">(mmHg)</text>
<text transform="matrix(0 -0.32633 0.28980 0 967.36 1177.76)" font-size="100" stroke="#000" stroke-width="3.57">Preload Recruitable</text>
<text transform="matrix(0 -0.34002 0.30068 0 1005.45 1128.28)" font-size="100" stroke="#000" stroke-width="3.43">Stroke Work</text>
<text transform="matrix(0.29735 0 0 0.32485 657.06 839.91)" font-size="100" font-weight="bold" font-family="DejaVu Sans, sans-serif">††</text>
<text transform="matrix(0.29965 0 0 0.31636 1407.35 928.39)" font-size="100" font-weight="bold" font-family="DejaVu Sans, sans-serif">†††</text>
<text transform="matrix(0.29965 0 0 0.30909 1549.35 993.56)" font-size="100" font-weight="bold" font-family="DejaVu Sans, sans-serif">†††</text>
<text transform="matrix(0.42535 0 0 0.42286 644.61 297.48)" font-size="100" stroke="#000" stroke-width="2.12">*</text>
<text transform="matrix(0.42535 0 0 0.42286 664.31 297.48)" font-size="100" stroke="#000" stroke-width="2.12">*</text>
<text transform="matrix(0.42535 0 0 0.42286 1564.91 293.03)" font-size="100" stroke="#000" stroke-width="2.12">*</text>
<text transform="matrix(0.42535 0 0 0.42286 524.11 965.28)" font-size="100" stroke="#000" stroke-width="2.12">*</text>
<text transform="matrix(0.42535 0 0 0.42286 653.61 885.88)" font-size="100" stroke="#000" stroke-width="2.12">*</text>
<text transform="matrix(0.42535 0 0 0.42286 673.31 885.88)" font-size="100" stroke="#000" stroke-width="2.12">*</text>
<text transform="matrix(0.42535 0 0 0.42286 1422.91 975.28)" font-size="100" stroke="#000" stroke-width="2.12">*</text>
<text transform="matrix(0.42535 0 0 0.42286 1563.76 1041.63)" font-size="100" stroke="#000" stroke-width="2.12">*</text>
<text transform="matrix(0.13924 0 0 0.14930 122.95 1440.05)" font-size="100" fill="#1f2249" stroke="#1f2249" stroke-width="3.47">220</text>
<text transform="matrix(0.14058 0 0 0.15362 122.60 1514.60)" font-size="100" fill="#1f2249" stroke="#1f2249" stroke-width="3.40">174</text>
<text transform="matrix(0.14194 0 0 0.14930 122.59 1587.45)" font-size="100" fill="#1f2249" stroke="#1f2249" stroke-width="3.43">128</text>
<text transform="matrix(0.14286 0 0 0.14930 130.51 1660.55)" font-size="100" fill="#1f2249" stroke="#1f2249" stroke-width="3.42">82</text>
<text transform="matrix(0.14078 0 0 0.14930 130.59 1734.15)" font-size="100" fill="#1f2249" stroke="#1f2249" stroke-width="3.45">36</text>
<text transform="matrix(0.14559 0 0 0.14930 125.19 1808.45)" font-size="100" fill="#1f2249" stroke="#1f2249" stroke-width="3.39">-10</text>
<text transform="matrix(0.14272 0 0 0.15211 149.58 1826.60)" font-size="100" fill="#1f2249" stroke="#1f2249" stroke-width="3.39">35</text>
<text transform="matrix(0.13868 0 0 0.15652 285.90 1826.75)" font-size="100" fill="#1f2249" stroke="#1f2249" stroke-width="3.39">44</text>
<text transform="matrix(0.14272 0 0 0.15211 422.08 1826.60)" font-size="100" fill="#1f2249" stroke="#1f2249" stroke-width="3.39">53</text>
<text transform="matrix(0.14554 0 0 0.15211 558.32 1826.60)" font-size="100" fill="#1f2249" stroke="#1f2249" stroke-width="3.36">62</text>
<text transform="matrix(0.14483 0 0 0.15652 695.23 1826.75)" font-size="100" fill="#1f2249" stroke="#1f2249" stroke-width="3.32">71</text>
<text transform="matrix(0.14272 0 0 0.15211 831.31 1826.60)" font-size="100" fill="#1f2249" stroke="#1f2249" stroke-width="3.39">80</text>
<text transform="matrix(0 -0.14732 0.14444 0 113.42 1672.83)" font-size="100" fill="#2b2b2b" stroke="#2b2b2b" stroke-width="2.06">Pressure mmHg</text>
<text transform="matrix(0.14521 0 0 0.13797 442.88 1849.75)" font-size="100" fill="#2b2b2b" stroke="#2b2b2b" stroke-width="2.12">Volume (corr.) uL</text>
<text transform="matrix(0.43958 0 0 0.49462 200.87 1618.55)" font-size="100" font-weight="bold" font-family="DejaVu Sans, sans-serif">*</text>
<text transform="matrix(0.43958 0 0 0.49462 356.07 1559.95)" font-size="100" font-weight="bold" font-family="DejaVu Sans, sans-serif" fill="#6cc24a">*</text>
<text transform="matrix(0.43958 0 0 0.49462 453.12 1540.95)" font-size="100" font-weight="bold" font-family="DejaVu Sans, sans-serif" fill="#0a14c8">*</text>
<text transform="matrix(0.43958 0 0 0.49462 525.32 1531.15)" font-size="100" font-weight="bold" font-family="DejaVu Sans, sans-serif" fill="#ff0a0a">*</text>
<text transform="matrix(0.29600 0 0 0.26803 731.17 1474.03)" font-size="100">Sham</text>
<text transform="matrix(0.25596 0 0 0.27606 717.72 1511.52)" font-size="100" fill="#63c040">25G TAC</text>
<text transform="matrix(0.25596 0 0 0.27606 717.72 1547.22)" font-size="100" fill="#0d18cc">26G TAC</text>
<text transform="matrix(0.25596 0 0 0.27606 717.72 1582.52)" font-size="100" fill="#ff1212">27G TAC</text>
</svg>
</body></html>
